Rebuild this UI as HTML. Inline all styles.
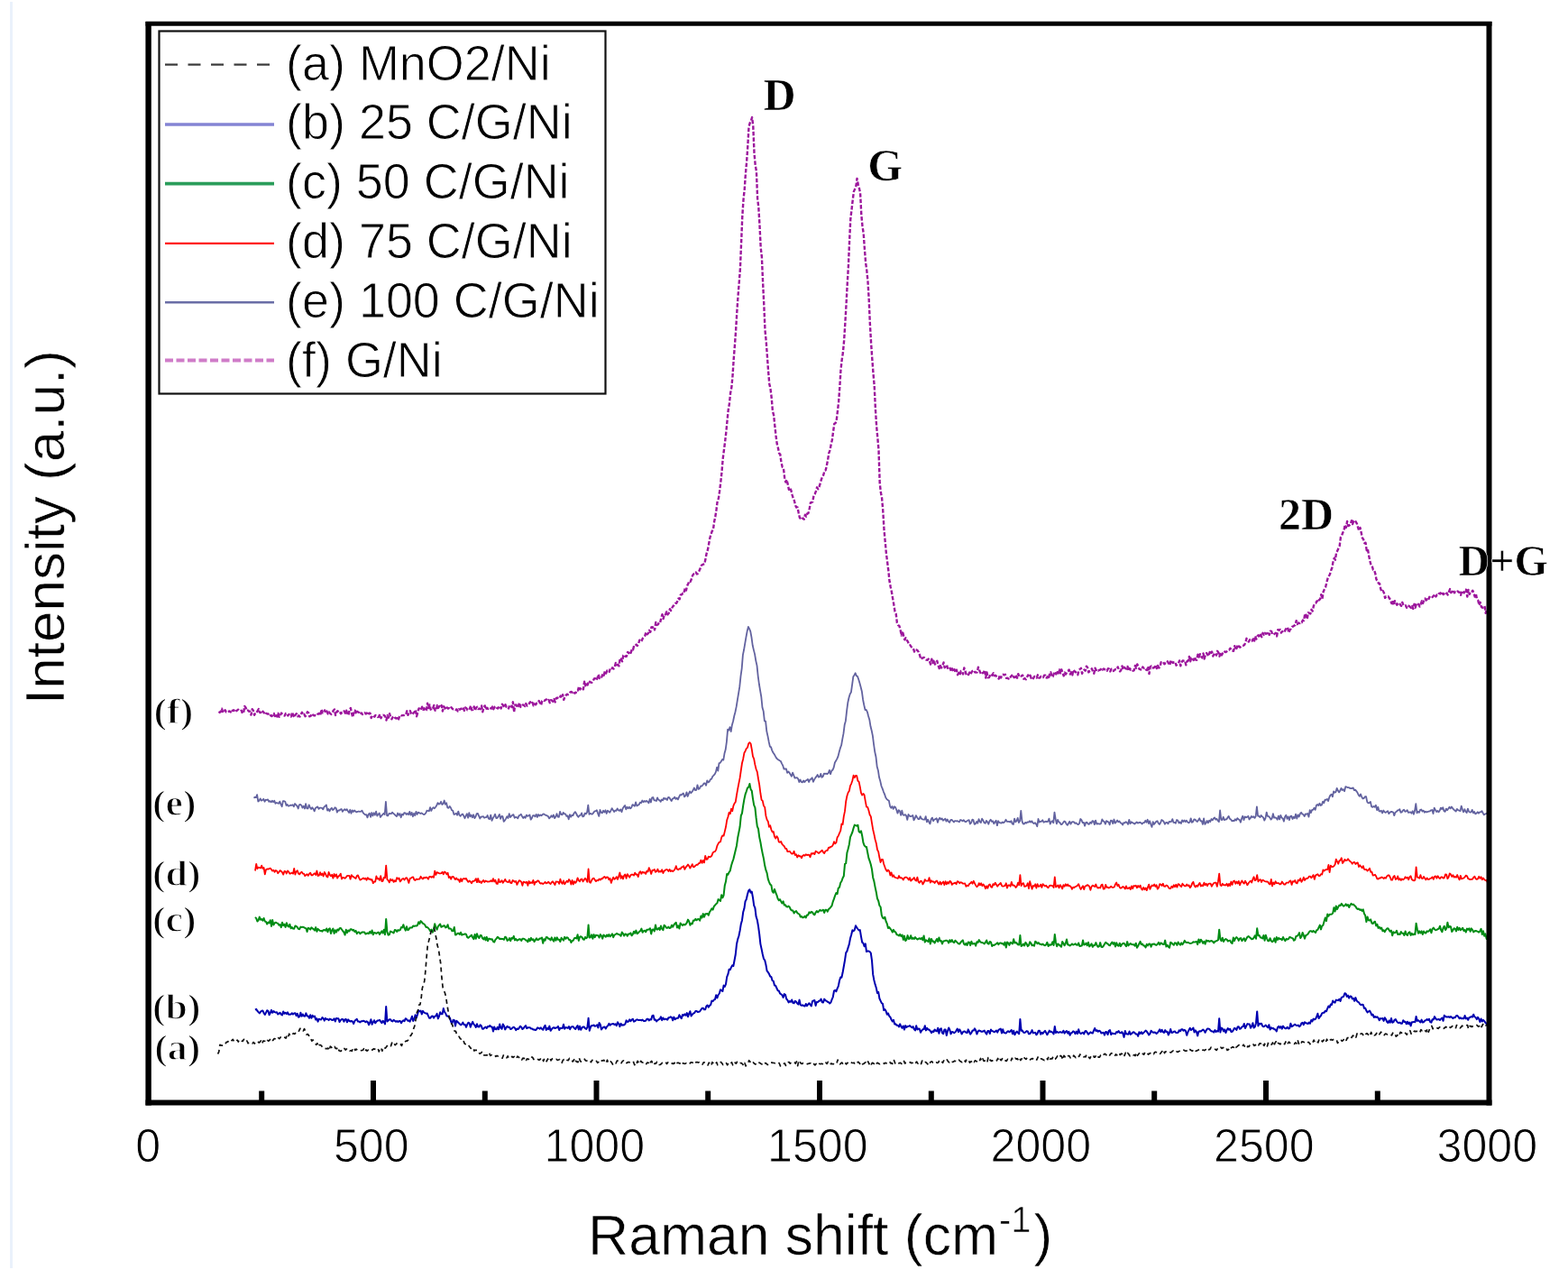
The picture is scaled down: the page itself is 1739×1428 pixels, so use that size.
<!DOCTYPE html>
<html><head><meta charset="utf-8"><title>Raman spectra</title>
<style>
html,body{margin:0;padding:0;background:#fff;}
body{width:1739px;height:1428px;overflow:hidden;}
svg{display:block;}
.sans{font-family:"Liberation Sans",Arial,sans-serif;}
.thin text, text.thin{stroke:#fff;stroke-width:0.9px;stroke-linejoin:round;}
.thin2 text, text.thin2{stroke:#fff;stroke-width:0.6px;stroke-linejoin:round;}
.thin3 text{stroke:#fff;stroke-width:1.3px;stroke-linejoin:round;}
.serifb{font-family:"Liberation Serif","Times New Roman",serif;font-weight:bold;}
</style></head>
<body>
<svg width="1739" height="1428" viewBox="0 0 1739 1428">
<rect x="0" y="0" width="1739" height="1428" fill="#fff"/>
<rect x="11" y="2" width="3" height="1404" fill="#eaf1fb"/>
<!-- curves -->
<g id="curves">
<path d="M242.5 789.0 L243.7 789.9 L244.9 789.0 L246.1 785.7 L247.3 790.1 L248.5 789.2 L249.7 787.2 L250.9 789.5 L252.1 789.0 L253.3 788.9 L254.5 788.4 L255.7 789.4 L256.9 786.8 L258.1 788.0 L259.3 787.3 L260.5 789.5 L261.7 788.4 L262.9 787.7 L264.1 786.7 L265.3 787.8 L266.5 788.3 L267.7 787.7 L268.9 790.9 L270.1 790.3 L271.3 782.9 L272.5 784.5 L273.7 788.0 L274.9 787.5 L276.1 788.7 L277.3 788.8 L278.5 792.6 L279.7 786.2 L280.9 787.8 L282.1 792.8 L283.3 790.1 L284.5 790.3 L285.7 788.2 L286.9 786.1 L288.1 790.0 L289.3 790.1 L290.5 787.6 L291.7 789.0 L292.9 790.4 L294.1 788.9 L295.3 790.9 L296.5 791.5 L297.7 791.6 L298.9 790.8 L300.1 793.2 L301.3 794.0 L302.5 793.0 L303.7 790.9 L304.9 794.1 L306.1 791.8 L307.3 794.6 L308.5 790.8 L309.7 794.8 L310.9 793.0 L312.1 790.5 L313.3 792.4 L314.5 793.1 L315.7 793.5 L316.9 791.0 L318.1 790.8 L319.3 793.4 L320.5 792.0 L321.7 793.4 L322.9 794.5 L324.1 789.6 L325.3 793.4 L326.5 795.3 L327.7 792.3 L328.9 791.2 L330.1 794.3 L331.3 793.3 L332.5 794.6 L333.7 792.1 L334.9 789.8 L336.1 792.5 L337.3 791.8 L338.5 794.2 L339.7 793.0 L340.9 789.3 L342.1 790.2 L343.3 794.3 L344.5 793.9 L345.7 791.2 L346.9 792.4 L348.1 793.2 L349.3 793.1 L350.5 793.7 L351.7 792.3 L352.9 791.4 L354.1 790.9 L355.3 793.3 L356.5 786.4 L357.7 790.4 L358.9 790.5 L360.1 787.4 L361.3 790.7 L362.5 788.6 L363.7 791.5 L364.9 789.4 L366.1 790.9 L367.3 791.9 L368.5 790.3 L369.7 787.8 L370.9 786.5 L372.1 793.0 L373.3 789.3 L374.5 788.2 L375.7 789.9 L376.9 789.2 L378.1 791.3 L379.3 789.7 L380.5 789.7 L381.7 788.3 L382.9 790.7 L384.1 787.7 L385.3 791.1 L386.5 792.9 L387.7 786.8 L388.9 785.0 L390.1 791.2 L391.3 795.1 L392.5 788.1 L393.7 787.7 L394.9 791.5 L396.1 788.8 L397.3 789.6 L398.5 790.1 L399.7 792.1 L400.9 790.4 L402.1 792.0 L403.3 791.3 L404.5 790.2 L405.7 791.5 L406.9 790.5 L408.1 792.6 L409.3 790.6 L410.5 790.8 L411.7 796.1 L412.9 793.3 L414.1 793.4 L415.3 794.7 L416.5 793.0 L417.7 793.5 L418.9 795.0 L420.1 794.8 L421.3 792.1 L422.5 796.2 L423.7 793.5 L424.9 792.8 L426.1 793.2 L427.3 794.3 L428.5 798.5 L429.7 793.0 L430.9 795.7 L432.1 791.2 L433.3 795.5 L434.5 797.3 L435.7 795.0 L436.9 794.1 L438.1 795.7 L439.3 796.5 L440.5 796.2 L441.7 798.6 L442.9 794.7 L444.1 792.8 L445.3 793.4 L446.5 793.1 L447.7 793.1 L448.9 792.4 L450.1 792.4 L451.3 788.3 L452.5 792.9 L453.7 789.7 L454.9 788.1 L456.1 791.3 L457.3 792.3 L458.5 790.4 L459.7 789.4 L460.9 786.9 L462.1 794.2 L463.3 789.9 L464.5 785.5 L465.7 785.9 L466.9 787.3 L468.1 783.7 L469.3 786.8 L470.5 785.2 L471.7 788.2 L472.9 787.4 L474.1 779.7 L475.3 785.0 L476.5 781.4 L477.7 786.7 L478.9 784.6 L480.1 785.2 L481.3 781.9 L482.5 787.7 L483.7 788.0 L484.9 781.9 L486.1 784.9 L487.3 782.9 L488.5 784.4 L489.7 782.1 L490.9 788.6 L492.1 783.1 L493.3 784.7 L494.5 786.5 L495.7 784.4 L496.9 785.5 L498.1 785.1 L499.3 786.1 L500.5 784.2 L501.7 785.8 L502.9 786.4 L504.1 786.3 L505.3 787.1 L506.5 786.4 L507.7 788.5 L508.9 786.3 L510.1 786.7 L511.3 785.6 L512.5 785.8 L513.7 784.3 L514.9 787.8 L516.1 784.4 L517.3 785.2 L518.5 787.3 L519.7 787.3 L520.9 785.7 L522.1 782.4 L523.3 787.2 L524.5 786.8 L525.7 783.4 L526.9 787.7 L528.1 784.6 L529.3 783.7 L530.5 786.1 L531.7 785.5 L532.9 786.2 L534.1 782.5 L535.3 789.3 L536.5 784.4 L537.7 782.4 L538.9 786.7 L540.1 784.7 L541.3 785.9 L542.5 784.5 L543.7 785.0 L544.9 785.6 L546.1 783.5 L547.3 786.3 L548.5 783.9 L549.7 783.0 L550.9 784.8 L552.1 785.5 L553.3 784.0 L554.5 782.7 L555.7 785.5 L556.9 780.7 L558.1 782.1 L559.3 784.1 L560.5 781.2 L561.7 783.9 L562.9 783.6 L564.1 785.4 L565.3 781.7 L566.5 782.2 L567.7 784.0 L568.9 778.3 L570.1 789.4 L571.3 781.7 L572.5 781.5 L573.7 784.6 L574.9 782.7 L576.1 779.1 L577.3 783.8 L578.5 784.1 L579.7 781.4 L580.9 781.6 L582.1 783.0 L583.3 780.0 L584.5 782.6 L585.7 781.9 L586.9 780.0 L588.1 778.3 L589.3 780.4 L590.5 778.9 L591.7 782.3 L592.9 780.3 L594.1 781.2 L595.3 779.6 L596.5 779.5 L597.7 777.1 L598.9 779.6 L600.1 781.6 L601.3 777.1 L602.5 776.3 L603.7 776.9 L604.9 776.1 L606.1 775.4 L607.3 776.9 L608.5 775.9 L609.7 779.2 L610.9 776.2 L612.1 776.7 L613.3 777.8 L614.5 775.1 L615.7 778.4 L616.9 774.1 L618.1 773.5 L619.3 774.1 L620.5 774.4 L621.7 771.5 L622.9 773.9 L624.1 770.2 L625.3 775.9 L626.5 772.4 L627.7 770.8 L628.9 769.6 L630.1 770.1 L631.3 769.7 L632.5 767.4 L633.7 767.0 L634.9 767.7 L636.1 766.4 L637.3 768.6 L638.5 768.2 L639.7 765.3 L640.9 765.5 L642.1 761.1 L643.3 764.4 L644.5 762.4 L645.7 762.7 L646.9 764.3 L648.1 755.8 L649.3 760.2 L650.5 756.8 L651.7 759.5 L652.9 755.0 L654.1 755.9 L655.3 756.6 L656.5 756.7 L657.7 754.9 L658.9 752.5 L660.1 752.2 L661.3 754.3 L662.5 751.8 L663.7 747.7 L664.9 752.0 L666.1 750.3 L667.3 750.5 L668.5 747.2 L669.7 748.7 L670.9 744.1 L672.1 746.6 L673.3 743.6 L674.5 745.1 L675.7 744.9 L676.9 740.5 L678.1 741.0 L679.3 740.2 L680.5 741.6 L681.7 739.7 L682.9 734.9 L684.1 737.3 L685.3 736.8 L686.5 738.4 L687.7 729.7 L688.9 730.8 L690.1 733.3 L691.3 726.7 L692.5 725.8 L693.7 727.9 L694.9 727.7 L696.1 723.0 L697.3 724.2 L698.5 722.1 L699.7 723.7 L700.9 719.5 L702.1 720.3 L703.3 715.3 L704.5 715.6 L705.7 714.6 L706.9 715.9 L708.1 713.6 L709.3 709.7 L710.5 711.4 L711.7 710.4 L712.9 707.5 L714.1 706.0 L715.3 704.9 L716.5 700.7 L717.7 703.3 L718.9 702.2 L720.1 698.8 L721.3 700.8 L722.5 695.3 L723.7 695.7 L724.9 694.6 L726.1 698.3 L727.3 689.9 L728.5 693.0 L729.7 692.5 L730.9 690.2 L732.1 690.6 L733.3 685.0 L734.5 681.2 L735.7 686.0 L736.9 680.8 L738.1 681.3 L739.3 678.3 L740.5 681.4 L741.7 679.7 L742.9 675.2 L744.1 677.0 L745.3 674.0 L746.5 672.0 L747.7 670.9 L748.9 668.9 L750.1 668.9 L751.3 666.6 L752.5 663.5 L753.7 664.4 L754.9 659.4 L756.1 659.3 L757.3 657.7 L758.5 657.9 L759.7 652.0 L760.9 654.6 L762.1 649.6 L763.3 647.0 L764.5 644.2 L765.7 644.9 L766.9 642.0 L768.1 638.0 L769.3 636.4 L770.5 636.0 L771.7 634.4 L772.9 636.5 L774.1 635.7 L775.3 633.2 L776.5 630.6 L777.7 627.2 L778.9 626.2 L780.1 625.7 L781.3 625.4 L782.5 619.6 L783.7 613.3 L784.9 609.6 L786.1 603.3 L787.3 596.5 L788.5 592.5 L789.7 588.9 L790.9 587.7 L792.1 578.6 L793.3 573.0 L794.5 565.0 L795.7 555.4 L796.9 552.6 L798.1 544.4 L799.3 534.6 L800.5 523.2 L801.7 508.7 L802.9 499.2 L804.1 489.9 L805.3 479.3 L806.5 466.8 L807.7 454.6 L808.9 447.6 L810.1 435.7 L811.3 429.8 L812.5 417.0 L813.7 398.4 L814.9 383.0 L816.1 366.6 L817.3 346.2 L818.5 328.4 L819.7 313.5 L820.9 298.0 L822.1 269.1 L823.3 239.7 L824.5 221.5 L825.7 210.1 L826.9 192.7 L828.1 179.3 L829.3 162.0 L830.5 140.5 L831.7 136.3 L832.9 133.9 L834.1 130.1 L835.3 140.1 L836.5 169.6 L837.7 183.1 L838.9 189.8 L840.1 220.1 L841.3 229.9 L842.5 249.8 L843.7 274.6 L844.9 285.0 L846.1 313.3 L847.3 338.1 L848.5 366.3 L849.7 378.2 L850.9 394.8 L852.1 411.7 L853.3 425.7 L854.5 431.1 L855.7 440.9 L856.9 455.7 L858.1 460.2 L859.3 471.8 L860.5 482.9 L861.7 491.9 L862.9 496.5 L864.1 502.6 L865.3 503.7 L866.5 513.0 L867.7 517.8 L868.9 518.5 L870.1 529.2 L871.3 534.5 L872.5 531.8 L873.7 536.7 L874.9 542.8 L876.1 540.7 L877.3 543.4 L878.5 548.2 L879.7 552.5 L880.9 555.1 L882.1 560.3 L883.3 562.6 L884.5 562.4 L885.7 568.6 L886.9 574.0 L888.1 575.0 L889.3 576.2 L890.5 574.5 L891.7 575.8 L892.9 570.7 L894.1 572.7 L895.3 569.4 L896.5 569.0 L897.7 564.0 L898.9 557.4 L900.1 557.0 L901.3 556.5 L902.5 549.2 L903.7 547.7 L904.9 544.6 L906.1 540.3 L907.3 542.2 L908.5 539.8 L909.7 535.8 L910.9 531.7 L912.1 528.4 L913.3 526.5 L914.5 521.7 L915.7 521.3 L916.9 516.0 L918.1 509.9 L919.3 502.4 L920.5 499.2 L921.7 492.6 L922.9 487.8 L924.1 478.4 L925.3 469.8 L926.5 469.2 L927.7 466.1 L928.9 456.2 L930.1 445.7 L931.3 429.3 L932.5 409.6 L933.7 398.8 L934.9 391.0 L936.1 377.9 L937.3 359.0 L938.5 338.2 L939.7 315.2 L940.9 295.2 L942.1 267.2 L943.3 242.7 L944.5 232.6 L945.7 222.0 L946.9 212.4 L948.1 209.6 L949.3 206.8 L950.5 197.9 L951.7 204.3 L952.9 208.6 L954.1 214.1 L955.3 238.2 L956.5 250.9 L957.7 258.7 L958.9 276.1 L960.1 291.3 L961.3 299.8 L962.5 312.3 L963.7 332.3 L964.9 359.6 L966.1 380.3 L967.3 397.9 L968.5 414.0 L969.7 427.8 L970.9 453.2 L972.1 472.3 L973.3 485.4 L974.5 498.8 L975.7 535.5 L976.9 546.1 L978.1 552.3 L979.3 566.8 L980.5 587.3 L981.7 600.4 L982.9 613.6 L984.1 623.0 L985.3 632.4 L986.5 644.3 L987.7 650.7 L988.9 656.3 L990.1 663.4 L991.3 670.1 L992.5 677.9 L993.7 680.5 L994.9 690.6 L996.1 693.2 L997.3 693.8 L998.5 697.7 L999.7 704.6 L1000.9 699.8 L1002.1 704.7 L1003.3 709.3 L1004.5 707.2 L1005.7 709.7 L1006.9 711.4 L1008.1 714.8 L1009.3 715.1 L1010.5 716.9 L1011.7 718.6 L1012.9 718.9 L1014.1 722.5 L1015.3 720.3 L1016.5 720.5 L1017.7 721.3 L1018.9 723.1 L1020.1 726.5 L1021.3 730.8 L1022.5 729.9 L1023.7 729.2 L1024.9 729.0 L1026.1 730.7 L1027.3 731.6 L1028.5 731.8 L1029.7 730.6 L1030.9 733.0 L1032.1 736.5 L1033.3 730.6 L1034.5 734.9 L1035.7 731.5 L1036.9 736.5 L1038.1 735.0 L1039.3 732.7 L1040.5 737.4 L1041.7 741.1 L1042.9 738.0 L1044.1 740.5 L1045.3 738.3 L1046.5 734.5 L1047.7 740.2 L1048.9 738.8 L1050.1 737.2 L1051.3 742.2 L1052.5 741.8 L1053.7 740.8 L1054.9 744.2 L1056.1 741.3 L1057.3 744.9 L1058.5 742.2 L1059.7 745.6 L1060.9 742.7 L1062.1 748.2 L1063.3 745.9 L1064.5 748.3 L1065.7 744.0 L1066.9 744.8 L1068.1 747.5 L1069.3 740.4 L1070.5 743.8 L1071.7 748.1 L1072.9 747.0 L1074.1 748.1 L1075.3 745.6 L1076.5 747.4 L1077.7 744.9 L1078.9 743.7 L1080.1 743.1 L1081.3 745.4 L1082.5 745.5 L1083.7 745.4 L1084.9 739.7 L1086.1 742.9 L1087.3 745.9 L1088.5 747.7 L1089.7 746.1 L1090.9 745.6 L1092.1 742.9 L1093.3 751.6 L1094.5 745.5 L1095.7 751.2 L1096.9 751.1 L1098.1 748.7 L1099.3 747.1 L1100.5 748.7 L1101.7 746.2 L1102.9 749.2 L1104.1 748.8 L1105.3 750.0 L1106.5 751.0 L1107.7 752.6 L1108.9 748.5 L1110.1 751.5 L1111.3 747.9 L1112.5 747.8 L1113.7 748.4 L1114.9 747.8 L1116.1 751.8 L1117.3 751.7 L1118.5 752.5 L1119.7 750.0 L1120.9 750.6 L1122.1 749.0 L1123.3 747.9 L1124.5 751.2 L1125.7 750.9 L1126.9 748.2 L1128.1 751.7 L1129.3 747.1 L1130.5 750.3 L1131.7 749.4 L1132.9 749.7 L1134.1 748.6 L1135.3 752.7 L1136.5 752.0 L1137.7 753.3 L1138.9 751.2 L1140.1 748.4 L1141.3 750.3 L1142.5 748.7 L1143.7 752.0 L1144.9 753.5 L1146.1 751.8 L1147.3 749.9 L1148.5 750.4 L1149.7 751.6 L1150.9 748.3 L1152.1 751.5 L1153.3 751.5 L1154.5 749.9 L1155.7 750.0 L1156.9 751.0 L1158.1 748.8 L1159.3 748.6 L1160.5 751.5 L1161.7 750.2 L1162.9 752.8 L1164.1 747.2 L1165.3 745.3 L1166.5 750.4 L1167.7 750.2 L1168.9 746.5 L1170.1 744.8 L1171.3 747.4 L1172.5 743.8 L1173.7 746.4 L1174.9 742.5 L1176.1 746.3 L1177.3 742.3 L1178.5 745.9 L1179.7 749.3 L1180.9 745.6 L1182.1 747.5 L1183.3 744.5 L1184.5 743.9 L1185.7 742.6 L1186.9 747.5 L1188.1 745.2 L1189.3 748.4 L1190.5 742.7 L1191.7 744.4 L1192.9 744.9 L1194.1 747.5 L1195.3 748.2 L1196.5 743.1 L1197.7 742.0 L1198.9 740.7 L1200.1 746.8 L1201.3 743.8 L1202.5 742.6 L1203.7 743.7 L1204.9 738.6 L1206.1 740.1 L1207.3 745.4 L1208.5 744.2 L1209.7 743.7 L1210.9 741.3 L1212.1 744.4 L1213.3 746.7 L1214.5 740.6 L1215.7 743.0 L1216.9 742.1 L1218.1 743.6 L1219.3 742.8 L1220.5 742.5 L1221.7 740.9 L1222.9 742.6 L1224.1 741.4 L1225.3 742.3 L1226.5 742.4 L1227.7 743.8 L1228.9 741.2 L1230.1 741.7 L1231.3 744.4 L1232.5 741.8 L1233.7 741.7 L1234.9 743.9 L1236.1 742.6 L1237.3 742.2 L1238.5 742.4 L1239.7 739.4 L1240.9 742.8 L1242.1 744.4 L1243.3 742.9 L1244.5 738.5 L1245.7 742.1 L1246.9 739.7 L1248.1 741.0 L1249.3 741.6 L1250.5 738.9 L1251.7 743.9 L1252.9 741.0 L1254.1 742.7 L1255.3 742.3 L1256.5 743.7 L1257.7 743.3 L1258.9 737.9 L1260.1 740.8 L1261.3 736.4 L1262.5 739.7 L1263.7 741.9 L1264.9 742.2 L1266.1 742.9 L1267.3 739.5 L1268.5 740.8 L1269.7 740.2 L1270.9 742.4 L1272.1 743.0 L1273.3 738.9 L1274.5 747.1 L1275.7 739.4 L1276.9 738.5 L1278.1 740.3 L1279.3 740.5 L1280.5 739.8 L1281.7 737.1 L1282.9 741.1 L1284.1 737.9 L1285.3 740.5 L1286.5 739.8 L1287.7 734.1 L1288.9 734.4 L1290.1 734.0 L1291.3 736.2 L1292.5 735.5 L1293.7 735.7 L1294.9 733.3 L1296.1 735.7 L1297.3 737.5 L1298.5 731.9 L1299.7 734.1 L1300.9 734.9 L1302.1 734.1 L1303.3 733.8 L1304.5 737.7 L1305.7 736.7 L1306.9 735.7 L1308.1 732.4 L1309.3 738.3 L1310.5 734.4 L1311.7 732.4 L1312.9 732.7 L1314.1 732.3 L1315.3 737.3 L1316.5 733.2 L1317.7 732.6 L1318.9 727.9 L1320.1 733.3 L1321.3 729.4 L1322.5 728.9 L1323.7 732.0 L1324.9 728.6 L1326.1 731.6 L1327.3 731.8 L1328.5 725.6 L1329.7 728.5 L1330.9 725.2 L1332.1 727.8 L1333.3 729.4 L1334.5 724.5 L1335.7 730.5 L1336.9 726.0 L1338.1 724.0 L1339.3 725.8 L1340.5 727.4 L1341.7 722.9 L1342.9 725.4 L1344.1 722.5 L1345.3 727.5 L1346.5 725.2 L1347.7 723.9 L1348.9 726.6 L1350.1 721.8 L1351.3 723.4 L1352.5 727.7 L1353.7 723.6 L1354.9 726.4 L1356.1 723.9 L1357.3 721.9 L1358.5 722.6 L1359.7 723.0 L1360.9 721.8 L1362.1 720.7 L1363.3 720.5 L1364.5 718.7 L1365.7 721.5 L1366.9 721.6 L1368.1 721.8 L1369.3 716.1 L1370.5 720.6 L1371.7 718.3 L1372.9 714.7 L1374.1 717.0 L1375.3 717.7 L1376.5 716.4 L1377.7 716.0 L1378.9 715.8 L1380.1 715.0 L1381.3 712.5 L1382.5 707.8 L1383.7 709.8 L1384.9 711.5 L1386.1 709.2 L1387.3 710.9 L1388.5 710.6 L1389.7 708.5 L1390.9 711.6 L1392.1 705.3 L1393.3 708.6 L1394.5 705.3 L1395.7 704.2 L1396.9 706.5 L1398.1 703.7 L1399.3 706.2 L1400.5 701.8 L1401.7 703.9 L1402.9 701.8 L1404.1 702.8 L1405.3 702.2 L1406.5 700.4 L1407.7 703.8 L1408.9 699.7 L1410.1 700.0 L1411.3 703.5 L1412.5 703.5 L1413.7 702.6 L1414.9 701.7 L1416.1 705.4 L1417.3 698.1 L1418.5 698.8 L1419.7 698.0 L1420.9 701.5 L1422.1 700.0 L1423.3 701.3 L1424.5 700.6 L1425.7 697.9 L1426.9 696.3 L1428.1 695.5 L1429.3 701.4 L1430.5 698.5 L1431.7 697.2 L1432.9 694.8 L1434.1 694.5 L1435.3 693.6 L1436.5 692.9 L1437.7 688.1 L1438.9 692.0 L1440.1 690.5 L1441.3 691.0 L1442.5 689.9 L1443.7 690.2 L1444.9 687.5 L1446.1 688.0 L1447.3 680.2 L1448.5 681.9 L1449.7 686.4 L1450.9 679.2 L1452.1 679.8 L1453.3 680.4 L1454.5 675.8 L1455.7 677.6 L1456.9 671.8 L1458.1 669.3 L1459.3 668.8 L1460.5 666.4 L1461.7 667.8 L1462.9 665.1 L1464.1 664.2 L1465.3 659.1 L1466.5 663.8 L1467.7 655.9 L1468.9 653.2 L1470.1 651.0 L1471.3 646.0 L1472.5 641.4 L1473.7 639.0 L1474.9 636.8 L1476.1 632.6 L1477.3 629.5 L1478.5 622.9 L1479.7 618.8 L1480.9 620.7 L1482.1 612.7 L1483.3 610.6 L1484.5 607.6 L1485.7 605.2 L1486.9 595.7 L1488.1 593.7 L1489.3 590.5 L1490.5 588.0 L1491.7 581.8 L1492.9 585.0 L1494.1 578.0 L1495.3 583.1 L1496.5 582.4 L1497.7 581.6 L1498.9 577.2 L1500.1 581.1 L1501.3 577.3 L1502.5 576.9 L1503.7 578.5 L1504.9 580.6 L1506.1 584.8 L1507.3 588.5 L1508.5 585.1 L1509.7 590.6 L1510.9 596.3 L1512.1 598.0 L1513.3 602.1 L1514.5 601.7 L1515.7 610.2 L1516.9 608.7 L1518.1 615.7 L1519.3 621.7 L1520.5 626.5 L1521.7 627.4 L1522.9 631.8 L1524.1 632.3 L1525.3 635.9 L1526.5 642.6 L1527.7 643.7 L1528.9 646.7 L1530.1 647.2 L1531.3 653.0 L1532.5 656.1 L1533.7 655.0 L1534.9 657.2 L1536.1 662.9 L1537.3 661.5 L1538.5 661.8 L1539.7 661.3 L1540.9 663.3 L1542.1 665.0 L1543.3 669.0 L1544.5 665.6 L1545.7 671.0 L1546.9 666.1 L1548.1 667.8 L1549.3 670.7 L1550.5 669.1 L1551.7 668.4 L1552.9 670.2 L1554.1 671.8 L1555.3 667.8 L1556.5 671.1 L1557.7 671.7 L1558.9 671.3 L1560.1 673.8 L1561.3 671.3 L1562.5 671.8 L1563.7 672.7 L1564.9 674.0 L1566.1 671.9 L1567.3 675.0 L1568.5 669.8 L1569.7 673.7 L1570.9 668.8 L1572.1 669.6 L1573.3 669.9 L1574.5 672.6 L1575.7 669.6 L1576.9 666.3 L1578.1 669.0 L1579.3 665.3 L1580.5 663.6 L1581.7 665.5 L1582.9 664.3 L1584.1 665.4 L1585.3 661.8 L1586.5 663.1 L1587.7 663.0 L1588.9 661.7 L1590.1 660.5 L1591.3 658.7 L1592.5 661.4 L1593.7 659.5 L1594.9 659.9 L1596.1 657.9 L1597.3 658.4 L1598.5 656.0 L1599.7 658.0 L1600.9 659.1 L1602.1 657.6 L1603.3 658.9 L1604.5 657.6 L1605.7 659.5 L1606.9 656.2 L1608.1 653.1 L1609.3 657.1 L1610.5 655.8 L1611.7 654.1 L1612.9 657.3 L1614.1 656.5 L1615.3 656.9 L1616.5 655.4 L1617.7 656.5 L1618.9 656.7 L1620.1 659.8 L1621.3 655.0 L1622.5 656.5 L1623.7 657.4 L1624.9 653.4 L1626.1 653.8 L1627.3 661.6 L1628.5 654.0 L1629.7 658.9 L1630.9 656.4 L1632.1 656.8 L1633.3 654.7 L1634.5 657.3 L1635.7 661.6 L1636.9 658.7 L1638.1 664.4 L1639.3 665.7 L1640.5 671.0 L1641.7 667.8 L1642.9 672.8 L1644.1 673.7 L1645.3 673.0 L1646.5 671.9 L1647.7 679.9 L1648.9 675.8" fill="none" stroke="#9c169c" stroke-width="2.4" stroke-dasharray="4.5 2" stroke-linejoin="round"/>
<path d="M281.5 884.7 L282.7 883.8 L283.9 884.2 L285.1 881.1 L286.3 888.5 L287.5 887.7 L288.7 885.4 L289.9 887.6 L291.1 887.0 L292.3 885.8 L293.5 888.7 L294.7 886.7 L295.9 887.0 L297.1 886.4 L298.3 888.8 L299.5 888.1 L300.7 889.4 L301.9 887.7 L303.1 889.2 L304.3 887.7 L305.5 890.9 L306.7 890.0 L307.9 890.4 L309.1 890.8 L310.3 888.6 L311.5 891.8 L312.7 894.2 L313.9 888.1 L315.1 888.2 L316.3 888.8 L317.5 893.0 L318.7 891.9 L319.9 893.7 L321.1 893.3 L322.3 892.6 L323.5 892.9 L324.7 892.3 L325.9 894.3 L327.1 891.0 L328.3 892.4 L329.5 893.7 L330.7 896.5 L331.9 892.3 L333.1 891.9 L334.3 892.9 L335.5 895.6 L336.7 893.7 L337.9 896.5 L339.1 891.2 L340.3 896.4 L341.5 896.4 L342.7 892.3 L343.9 895.1 L345.1 897.1 L346.3 895.3 L347.5 896.9 L348.7 899.4 L349.9 895.9 L351.1 895.1 L352.3 894.4 L353.5 896.9 L354.7 895.6 L355.9 895.7 L357.1 895.9 L358.3 897.3 L359.5 894.5 L360.7 893.8 L361.9 892.4 L363.1 898.7 L364.3 896.9 L365.5 899.4 L366.7 897.0 L367.9 895.8 L369.1 898.0 L370.3 897.2 L371.5 895.3 L372.7 896.0 L373.9 900.7 L375.1 898.4 L376.3 898.6 L377.5 897.5 L378.7 897.0 L379.9 899.8 L381.1 898.2 L382.3 897.2 L383.5 898.4 L384.7 897.2 L385.9 899.2 L387.1 901.0 L388.3 897.8 L389.5 901.8 L390.7 898.4 L391.9 900.0 L393.1 898.5 L394.3 899.7 L395.5 900.4 L396.7 899.8 L397.9 899.5 L399.1 899.8 L400.3 899.7 L401.5 898.6 L402.7 901.1 L403.9 902.4 L405.1 903.4 L406.3 903.1 L407.5 906.4 L408.7 902.9 L409.9 901.7 L411.1 905.8 L412.3 901.0 L413.5 904.5 L414.7 901.3 L415.9 903.6 L417.1 899.7 L418.3 904.6 L419.5 902.8 L420.7 901.5 L421.9 906.0 L423.1 904.4 L424.3 903.2 L425.5 901.8 L426.7 903.0 L427.9 888.8 L429.1 904.3 L430.3 904.4 L431.5 901.9 L432.7 902.1 L433.9 902.1 L435.1 900.7 L436.3 902.0 L437.5 902.8 L438.7 904.1 L439.9 905.2 L441.1 901.5 L442.3 903.8 L443.5 902.1 L444.7 906.3 L445.9 902.7 L447.1 903.6 L448.3 901.1 L449.5 901.3 L450.7 903.0 L451.9 901.9 L453.1 903.2 L454.3 899.9 L455.5 903.6 L456.7 900.9 L457.9 905.3 L459.1 901.8 L460.3 904.1 L461.5 899.8 L462.7 902.9 L463.9 900.6 L465.1 901.2 L466.3 902.0 L467.5 901.4 L468.7 902.3 L469.9 903.0 L471.1 902.8 L472.3 901.3 L473.5 898.7 L474.7 899.0 L475.9 899.3 L477.1 895.1 L478.3 899.0 L479.5 896.3 L480.7 895.2 L481.9 896.2 L483.1 894.7 L484.3 893.0 L485.5 890.1 L486.7 891.6 L487.9 891.2 L489.1 888.8 L490.3 892.0 L491.5 891.3 L492.7 887.5 L493.9 891.8 L495.1 890.3 L496.3 895.4 L497.5 895.9 L498.7 893.9 L499.9 895.5 L501.1 898.3 L502.3 898.9 L503.5 903.0 L504.7 902.6 L505.9 901.6 L507.1 903.7 L508.3 899.6 L509.5 903.7 L510.7 904.8 L511.9 903.2 L513.1 902.4 L514.3 904.7 L515.5 907.2 L516.7 904.4 L517.9 902.2 L519.1 906.7 L520.3 901.2 L521.5 905.3 L522.7 903.6 L523.9 906.3 L525.1 903.3 L526.3 907.1 L527.5 905.5 L528.7 902.1 L529.9 901.8 L531.1 904.7 L532.3 907.5 L533.5 905.6 L534.7 905.5 L535.9 905.1 L537.1 906.8 L538.3 906.2 L539.5 906.1 L540.7 904.0 L541.9 907.7 L543.1 908.1 L544.3 903.6 L545.5 909.8 L546.7 907.1 L547.9 905.1 L549.1 902.7 L550.3 907.1 L551.5 906.9 L552.7 905.0 L553.9 902.9 L555.1 907.9 L556.3 905.0 L557.5 905.2 L558.7 910.8 L559.9 909.6 L561.1 907.6 L562.3 905.2 L563.5 907.1 L564.7 902.1 L565.9 906.1 L567.1 904.7 L568.3 903.7 L569.5 903.2 L570.7 906.8 L571.9 906.0 L573.1 906.1 L574.3 907.3 L575.5 904.4 L576.7 903.7 L577.9 902.8 L579.1 905.2 L580.3 907.0 L581.5 905.4 L582.7 906.8 L583.9 903.6 L585.1 904.8 L586.3 904.3 L587.5 903.4 L588.7 908.7 L589.9 906.9 L591.1 904.1 L592.3 904.1 L593.5 905.3 L594.7 902.9 L595.9 906.0 L597.1 903.0 L598.3 904.6 L599.5 903.4 L600.7 904.3 L601.9 902.8 L603.1 902.4 L604.3 903.4 L605.5 903.8 L606.7 904.4 L607.9 905.0 L609.1 907.4 L610.3 906.2 L611.5 904.3 L612.7 905.9 L613.9 903.5 L615.1 907.1 L616.3 905.5 L617.5 902.2 L618.7 905.7 L619.9 905.8 L621.1 899.8 L622.3 903.0 L623.5 903.4 L624.7 900.9 L625.9 902.3 L627.1 902.4 L628.3 904.8 L629.5 904.4 L630.7 908.3 L631.9 903.1 L633.1 905.7 L634.3 903.8 L635.5 904.0 L636.7 901.5 L637.9 900.1 L639.1 902.0 L640.3 904.5 L641.5 905.8 L642.7 904.1 L643.9 903.8 L645.1 901.4 L646.3 905.4 L647.5 904.9 L648.7 901.6 L649.9 902.4 L651.1 900.6 L652.3 892.7 L653.5 902.8 L654.7 901.8 L655.9 902.6 L657.1 902.5 L658.3 900.9 L659.5 899.4 L660.7 899.2 L661.9 898.3 L663.1 901.9 L664.3 904.8 L665.5 898.0 L666.7 900.9 L667.9 901.3 L669.1 898.7 L670.3 900.6 L671.5 898.3 L672.7 902.0 L673.9 898.8 L675.1 899.8 L676.3 900.7 L677.5 898.6 L678.7 896.1 L679.9 898.1 L681.1 900.1 L682.3 898.5 L683.5 898.8 L684.7 896.4 L685.9 898.2 L687.1 898.9 L688.3 897.4 L689.5 900.2 L690.7 896.2 L691.9 894.4 L693.1 893.0 L694.3 897.3 L695.5 894.8 L696.7 896.2 L697.9 894.8 L699.1 896.4 L700.3 895.3 L701.5 892.1 L702.7 892.8 L703.9 893.7 L705.1 889.4 L706.3 893.5 L707.5 892.8 L708.7 892.0 L709.9 889.7 L711.1 890.2 L712.3 887.5 L713.5 889.3 L714.7 888.0 L715.9 888.9 L717.1 887.8 L718.3 888.9 L719.5 890.3 L720.7 885.9 L721.9 889.5 L723.1 884.4 L724.3 884.0 L725.5 887.3 L726.7 887.4 L727.9 888.0 L729.1 884.3 L730.3 886.9 L731.5 887.1 L732.7 888.9 L733.9 886.4 L735.1 887.4 L736.3 884.7 L737.5 885.9 L738.7 885.3 L739.9 887.0 L741.1 884.0 L742.3 884.1 L743.5 886.3 L744.7 888.1 L745.9 885.5 L747.1 885.1 L748.3 883.7 L749.5 885.9 L750.7 884.7 L751.9 886.4 L753.1 883.7 L754.3 881.2 L755.5 881.5 L756.7 880.4 L757.9 879.5 L759.1 883.4 L760.3 882.2 L761.5 878.3 L762.7 883.0 L763.9 879.9 L765.1 877.4 L766.3 879.2 L767.5 877.9 L768.7 876.1 L769.9 873.5 L771.1 876.2 L772.3 875.9 L773.5 870.3 L774.7 874.9 L775.9 874.2 L777.1 871.5 L778.3 871.7 L779.5 870.2 L780.7 868.5 L781.9 868.5 L783.1 870.7 L784.3 865.3 L785.5 867.4 L786.7 866.6 L787.9 864.2 L789.1 863.7 L790.3 860.8 L791.5 859.7 L792.7 858.4 L793.9 855.9 L795.1 850.7 L796.3 854.6 L797.5 846.2 L798.7 845.8 L799.9 843.9 L801.1 842.0 L802.3 842.6 L803.5 835.3 L804.7 831.1 L805.9 822.3 L807.1 808.6 L808.3 809.7 L809.5 806.1 L810.7 811.0 L811.9 803.7 L813.1 799.5 L814.3 793.7 L815.5 789.3 L816.7 783.4 L817.9 775.8 L819.1 768.6 L820.3 761.2 L821.5 749.7 L822.7 741.1 L823.9 726.1 L825.1 720.3 L826.3 713.2 L827.5 706.1 L828.7 699.6 L829.9 694.9 L831.1 697.1 L832.3 700.1 L833.5 706.6 L834.7 715.5 L835.9 720.6 L837.1 725.4 L838.3 732.6 L839.5 737.9 L840.7 749.6 L841.9 758.5 L843.1 765.6 L844.3 772.5 L845.5 784.5 L846.7 788.4 L847.9 799.3 L849.1 799.7 L850.3 810.8 L851.5 816.1 L852.7 822.4 L853.9 827.7 L855.1 828.4 L856.3 832.1 L857.5 834.5 L858.7 836.1 L859.9 838.4 L861.1 840.5 L862.3 841.7 L863.5 842.5 L864.7 843.3 L865.9 844.0 L867.1 846.6 L868.3 848.9 L869.5 852.7 L870.7 852.5 L871.9 852.3 L873.1 856.8 L874.3 855.5 L875.5 856.7 L876.7 858.7 L877.9 860.8 L879.1 856.7 L880.3 859.7 L881.5 862.6 L882.7 862.3 L883.9 862.1 L885.1 863.3 L886.3 867.1 L887.5 864.5 L888.7 866.9 L889.9 867.4 L891.1 865.5 L892.3 867.1 L893.5 865.5 L894.7 865.0 L895.9 863.9 L897.1 867.0 L898.3 864.4 L899.5 863.7 L900.7 862.3 L901.9 866.8 L903.1 864.4 L904.3 862.4 L905.5 860.9 L906.7 859.0 L907.9 861.6 L909.1 861.2 L910.3 857.9 L911.5 861.9 L912.7 860.9 L913.9 857.6 L915.1 857.9 L916.3 857.7 L917.5 858.2 L918.7 857.1 L919.9 853.9 L921.1 858.2 L922.3 854.4 L923.5 853.7 L924.7 850.9 L925.9 845.5 L927.1 843.5 L928.3 841.4 L929.5 838.6 L930.7 833.8 L931.9 829.4 L933.1 826.3 L934.3 819.3 L935.5 813.2 L936.7 803.6 L937.9 799.2 L939.1 788.2 L940.3 779.0 L941.5 773.5 L942.7 769.4 L943.9 767.6 L945.1 759.2 L946.3 750.3 L947.5 748.5 L948.7 746.3 L949.9 749.3 L951.1 750.1 L952.3 753.5 L953.5 757.6 L954.7 762.0 L955.9 766.8 L957.1 775.7 L958.3 781.7 L959.5 787.0 L960.7 787.0 L961.9 789.3 L963.1 793.9 L964.3 797.9 L965.5 805.3 L966.7 810.0 L967.9 815.9 L969.1 825.5 L970.3 833.8 L971.5 839.3 L972.7 850.1 L973.9 854.2 L975.1 862.1 L976.3 866.1 L977.5 871.5 L978.7 874.4 L979.9 877.8 L981.1 880.6 L982.3 884.2 L983.5 886.1 L984.7 887.0 L985.9 887.8 L987.1 893.9 L988.3 895.8 L989.5 894.0 L990.7 896.9 L991.9 894.3 L993.1 895.1 L994.3 898.0 L995.5 901.7 L996.7 898.1 L997.9 899.1 L999.1 903.9 L1000.3 898.6 L1001.5 903.5 L1002.7 903.8 L1003.9 903.1 L1005.1 904.3 L1006.3 908.9 L1007.5 902.9 L1008.7 904.7 L1009.9 905.2 L1011.1 904.8 L1012.3 904.0 L1013.5 909.3 L1014.7 907.2 L1015.9 904.1 L1017.1 906.1 L1018.3 908.1 L1019.5 908.2 L1020.7 905.2 L1021.9 907.6 L1023.1 908.3 L1024.3 908.6 L1025.5 908.7 L1026.7 905.1 L1027.9 911.4 L1029.1 908.7 L1030.3 911.5 L1031.5 913.4 L1032.7 908.3 L1033.9 906.6 L1035.1 910.2 L1036.3 908.5 L1037.5 908.1 L1038.7 907.2 L1039.9 911.9 L1041.1 908.4 L1042.3 906.8 L1043.5 908.5 L1044.7 907.4 L1045.9 909.7 L1047.1 908.8 L1048.3 907.7 L1049.5 910.6 L1050.7 908.5 L1051.9 910.9 L1053.1 911.9 L1054.3 909.2 L1055.5 908.8 L1056.7 910.2 L1057.9 911.5 L1059.1 910.0 L1060.3 910.3 L1061.5 910.1 L1062.7 910.7 L1063.9 911.3 L1065.1 909.0 L1066.3 909.4 L1067.5 910.4 L1068.7 909.2 L1069.9 910.6 L1071.1 911.3 L1072.3 910.4 L1073.5 909.5 L1074.7 909.2 L1075.9 913.5 L1077.1 912.1 L1078.3 908.7 L1079.5 909.2 L1080.7 913.8 L1081.9 913.3 L1083.1 910.9 L1084.3 912.7 L1085.5 908.2 L1086.7 910.8 L1087.9 912.1 L1089.1 907.7 L1090.3 909.5 L1091.5 912.2 L1092.7 912.8 L1093.9 909.9 L1095.1 911.4 L1096.3 913.7 L1097.5 910.3 L1098.7 908.7 L1099.9 910.9 L1101.1 910.3 L1102.3 913.2 L1103.5 911.3 L1104.7 909.7 L1105.9 915.2 L1107.1 910.2 L1108.3 911.9 L1109.5 912.3 L1110.7 912.5 L1111.9 911.4 L1113.1 912.2 L1114.3 911.1 L1115.5 908.8 L1116.7 910.8 L1117.9 910.9 L1119.1 910.9 L1120.3 911.5 L1121.5 910.2 L1122.7 913.5 L1123.9 914.0 L1125.1 907.6 L1126.3 911.3 L1127.5 910.1 L1128.7 906.9 L1129.9 912.1 L1131.1 910.3 L1132.3 898.8 L1133.5 910.3 L1134.7 913.3 L1135.9 913.5 L1137.1 911.9 L1138.3 912.6 L1139.5 911.3 L1140.7 911.7 L1141.9 910.2 L1143.1 911.6 L1144.3 910.3 L1145.5 912.2 L1146.7 913.0 L1147.9 912.1 L1149.1 913.6 L1150.3 916.2 L1151.5 908.0 L1152.7 911.6 L1153.9 910.6 L1155.1 910.8 L1156.3 909.3 L1157.5 911.7 L1158.7 911.2 L1159.9 910.6 L1161.1 911.2 L1162.3 910.7 L1163.5 907.7 L1164.7 913.5 L1165.9 911.2 L1167.1 910.1 L1168.3 912.3 L1169.5 900.6 L1170.7 908.1 L1171.9 913.3 L1173.1 908.9 L1174.3 911.4 L1175.5 912.0 L1176.7 914.1 L1177.9 913.8 L1179.1 912.1 L1180.3 910.5 L1181.5 911.1 L1182.7 913.7 L1183.9 914.9 L1185.1 912.8 L1186.3 910.8 L1187.5 913.6 L1188.7 911.3 L1189.9 911.2 L1191.1 911.4 L1192.3 912.9 L1193.5 912.4 L1194.7 913.6 L1195.9 914.1 L1197.1 912.8 L1198.3 908.0 L1199.5 909.1 L1200.7 912.2 L1201.9 911.9 L1203.1 915.6 L1204.3 911.9 L1205.5 911.7 L1206.7 913.6 L1207.9 913.8 L1209.1 911.6 L1210.3 912.8 L1211.5 910.1 L1212.7 910.4 L1213.9 914.1 L1215.1 909.6 L1216.3 913.6 L1217.5 913.2 L1218.7 913.3 L1219.9 913.6 L1221.1 913.0 L1222.3 908.4 L1223.5 910.3 L1224.7 911.0 L1225.9 913.6 L1227.1 910.1 L1228.3 910.9 L1229.5 911.5 L1230.7 914.3 L1231.9 909.6 L1233.1 909.8 L1234.3 913.1 L1235.5 908.5 L1236.7 912.7 L1237.9 911.3 L1239.1 909.4 L1240.3 911.4 L1241.5 910.4 L1242.7 912.4 L1243.9 912.7 L1245.1 914.6 L1246.3 912.1 L1247.5 912.3 L1248.7 911.1 L1249.9 912.1 L1251.1 913.9 L1252.3 908.8 L1253.5 913.2 L1254.7 911.2 L1255.9 912.2 L1257.1 912.6 L1258.3 913.5 L1259.5 912.5 L1260.7 911.4 L1261.9 912.6 L1263.1 912.1 L1264.3 911.7 L1265.5 912.4 L1266.7 913.5 L1267.9 912.2 L1269.1 912.2 L1270.3 909.8 L1271.5 911.7 L1272.7 908.8 L1273.9 913.1 L1275.1 910.3 L1276.3 914.0 L1277.5 916.9 L1278.7 911.1 L1279.9 914.0 L1281.1 912.4 L1282.3 910.8 L1283.5 910.2 L1284.7 912.6 L1285.9 914.0 L1287.1 912.2 L1288.3 909.0 L1289.5 909.7 L1290.7 911.1 L1291.9 913.7 L1293.1 911.9 L1294.3 911.9 L1295.5 913.4 L1296.7 910.9 L1297.9 911.1 L1299.1 910.9 L1300.3 908.1 L1301.5 911.9 L1302.7 911.8 L1303.9 912.7 L1305.1 909.0 L1306.3 909.5 L1307.5 912.5 L1308.7 911.4 L1309.9 913.1 L1311.1 909.3 L1312.3 911.0 L1313.5 909.5 L1314.7 911.1 L1315.9 909.7 L1317.1 911.4 L1318.3 912.3 L1319.5 911.5 L1320.7 907.3 L1321.9 911.9 L1323.1 911.0 L1324.3 908.4 L1325.5 908.6 L1326.7 910.1 L1327.9 911.0 L1329.1 909.2 L1330.3 907.2 L1331.5 910.3 L1332.7 910.1 L1333.9 913.9 L1335.1 907.5 L1336.3 913.9 L1337.5 912.5 L1338.7 910.0 L1339.9 912.3 L1341.1 909.6 L1342.3 911.0 L1343.5 908.0 L1344.7 909.4 L1345.9 907.5 L1347.1 906.4 L1348.3 908.6 L1349.5 907.9 L1350.7 909.9 L1351.9 911.1 L1353.1 898.5 L1354.3 908.9 L1355.5 909.0 L1356.7 905.8 L1357.9 909.1 L1359.1 908.5 L1360.3 908.4 L1361.5 906.5 L1362.7 904.9 L1363.9 907.8 L1365.1 908.6 L1366.3 910.3 L1367.5 909.8 L1368.7 910.2 L1369.9 908.3 L1371.1 909.5 L1372.3 907.1 L1373.5 908.4 L1374.7 908.8 L1375.9 911.7 L1377.1 907.4 L1378.3 904.7 L1379.5 909.1 L1380.7 905.3 L1381.9 906.4 L1383.1 905.9 L1384.3 904.8 L1385.5 908.5 L1386.7 907.2 L1387.9 905.0 L1389.1 906.1 L1390.3 905.2 L1391.5 906.9 L1392.7 905.1 L1393.9 894.4 L1395.1 904.6 L1396.3 904.9 L1397.5 906.1 L1398.7 904.0 L1399.9 905.4 L1401.1 906.4 L1402.3 909.6 L1403.5 907.1 L1404.7 900.6 L1405.9 904.9 L1407.1 905.1 L1408.3 906.4 L1409.5 908.6 L1410.7 907.3 L1411.9 902.2 L1413.1 906.7 L1414.3 906.4 L1415.5 907.0 L1416.7 908.7 L1417.9 904.6 L1419.1 908.4 L1420.3 903.8 L1421.5 906.7 L1422.7 907.3 L1423.9 910.6 L1425.1 905.5 L1426.3 903.8 L1427.5 907.8 L1428.7 905.4 L1429.9 909.1 L1431.1 905.0 L1432.3 904.6 L1433.5 908.0 L1434.7 905.8 L1435.9 907.0 L1437.1 902.6 L1438.3 907.6 L1439.5 903.4 L1440.7 905.5 L1441.9 902.1 L1443.1 900.8 L1444.3 902.6 L1445.5 903.0 L1446.7 905.0 L1447.9 902.5 L1449.1 902.6 L1450.3 902.0 L1451.5 905.6 L1452.7 898.2 L1453.9 901.1 L1455.1 898.0 L1456.3 897.9 L1457.5 895.8 L1458.7 897.9 L1459.9 893.0 L1461.1 892.0 L1462.3 893.1 L1463.5 890.7 L1464.7 893.0 L1465.9 892.4 L1467.1 888.6 L1468.3 890.2 L1469.5 886.7 L1470.7 886.8 L1471.9 885.9 L1473.1 888.1 L1474.3 884.0 L1475.5 881.5 L1476.7 880.6 L1477.9 883.3 L1479.1 877.5 L1480.3 878.7 L1481.5 878.1 L1482.7 873.8 L1483.9 876.6 L1485.1 878.4 L1486.3 876.5 L1487.5 873.9 L1488.7 876.0 L1489.9 875.1 L1491.1 877.2 L1492.3 872.1 L1493.5 872.5 L1494.7 873.2 L1495.9 873.1 L1497.1 873.9 L1498.3 874.2 L1499.5 874.0 L1500.7 873.4 L1501.9 876.1 L1503.1 875.6 L1504.3 877.1 L1505.5 878.8 L1506.7 881.4 L1507.9 882.9 L1509.1 880.5 L1510.3 883.7 L1511.5 885.5 L1512.7 884.9 L1513.9 883.2 L1515.1 883.2 L1516.3 889.1 L1517.5 890.3 L1518.7 890.1 L1519.9 888.9 L1521.1 894.2 L1522.3 894.9 L1523.5 893.9 L1524.7 894.7 L1525.9 892.7 L1527.1 898.1 L1528.3 894.8 L1529.5 899.2 L1530.7 899.6 L1531.9 898.8 L1533.1 901.5 L1534.3 898.5 L1535.5 900.3 L1536.7 900.9 L1537.9 900.1 L1539.1 899.1 L1540.3 902.1 L1541.5 900.8 L1542.7 899.9 L1543.9 900.0 L1545.1 900.5 L1546.3 904.2 L1547.5 900.5 L1548.7 900.0 L1549.9 898.5 L1551.1 898.3 L1552.3 897.1 L1553.5 900.8 L1554.7 900.4 L1555.9 898.6 L1557.1 897.8 L1558.3 899.8 L1559.5 899.5 L1560.7 898.1 L1561.9 900.9 L1563.1 900.6 L1564.3 900.3 L1565.5 901.7 L1566.7 899.2 L1567.9 902.7 L1569.1 898.6 L1570.3 891.2 L1571.5 901.4 L1572.7 899.8 L1573.9 900.8 L1575.1 897.9 L1576.3 897.5 L1577.5 899.6 L1578.7 898.6 L1579.9 900.7 L1581.1 899.7 L1582.3 900.5 L1583.5 899.9 L1584.7 899.6 L1585.9 899.3 L1587.1 898.3 L1588.3 898.0 L1589.5 902.1 L1590.7 895.6 L1591.9 898.1 L1593.1 900.0 L1594.3 898.9 L1595.5 900.4 L1596.7 898.8 L1597.9 895.6 L1599.1 897.1 L1600.3 895.2 L1601.5 899.2 L1602.7 899.9 L1603.9 896.6 L1605.1 898.2 L1606.3 896.5 L1607.5 894.7 L1608.7 896.4 L1609.9 894.4 L1611.1 896.2 L1612.3 897.6 L1613.5 898.5 L1614.7 899.6 L1615.9 897.0 L1617.1 898.2 L1618.3 898.7 L1619.5 899.1 L1620.7 893.6 L1621.9 897.3 L1623.1 900.3 L1624.3 897.2 L1625.5 899.8 L1626.7 901.0 L1627.9 896.6 L1629.1 899.7 L1630.3 900.6 L1631.5 900.4 L1632.7 897.9 L1633.9 901.3 L1635.1 899.9 L1636.3 902.4 L1637.5 901.8 L1638.7 900.3 L1639.9 901.7 L1641.1 900.3 L1642.3 900.4 L1643.5 899.1 L1644.7 901.5 L1645.9 903.4 L1647.1 902.3 L1648.3 902.2 L1649.5 901.3" fill="none" stroke="#62629f" stroke-width="1.8" stroke-linejoin="round"/>
<path d="M283.0 965.5 L284.2 957.8 L285.4 963.1 L286.6 961.6 L287.8 962.0 L289.0 962.5 L290.2 959.7 L291.4 962.9 L292.6 962.0 L293.8 969.3 L295.0 964.2 L296.2 963.4 L297.4 963.7 L298.6 963.2 L299.8 962.7 L301.0 964.0 L302.2 965.6 L303.4 964.6 L304.6 966.8 L305.8 965.0 L307.0 965.5 L308.2 968.2 L309.4 966.7 L310.6 965.1 L311.8 965.8 L313.0 967.1 L314.2 969.6 L315.4 966.0 L316.6 966.2 L317.8 968.5 L319.0 965.4 L320.2 966.6 L321.4 968.7 L322.6 968.3 L323.8 967.6 L325.0 968.7 L326.2 962.9 L327.4 969.5 L328.6 966.3 L329.8 965.2 L331.0 968.6 L332.2 969.4 L333.4 967.6 L334.6 966.6 L335.8 968.6 L337.0 968.6 L338.2 971.1 L339.4 970.1 L340.6 969.3 L341.8 970.9 L343.0 968.8 L344.2 967.6 L345.4 970.3 L346.6 970.4 L347.8 969.1 L349.0 968.2 L350.2 970.0 L351.4 965.5 L352.6 971.0 L353.8 970.7 L355.0 967.2 L356.2 970.2 L357.4 968.5 L358.6 971.5 L359.8 966.9 L361.0 968.8 L362.2 971.7 L363.4 972.5 L364.6 967.0 L365.8 969.9 L367.0 971.4 L368.2 969.8 L369.4 973.7 L370.6 969.0 L371.8 971.7 L373.0 969.4 L374.2 973.7 L375.4 971.3 L376.6 970.8 L377.8 968.6 L379.0 974.5 L380.2 973.0 L381.4 973.1 L382.6 973.8 L383.8 972.6 L385.0 971.0 L386.2 970.8 L387.4 970.9 L388.6 974.7 L389.8 970.1 L391.0 971.6 L392.2 972.2 L393.4 973.3 L394.6 974.0 L395.8 971.1 L397.0 970.4 L398.2 973.4 L399.4 975.6 L400.6 975.0 L401.8 974.2 L403.0 973.4 L404.2 974.6 L405.4 973.8 L406.6 975.7 L407.8 973.1 L409.0 974.8 L410.2 974.4 L411.4 975.6 L412.6 975.2 L413.8 979.2 L415.0 977.5 L416.2 977.5 L417.4 971.5 L418.6 974.4 L419.8 974.0 L421.0 975.9 L422.2 971.1 L423.4 977.0 L424.6 976.8 L425.8 972.8 L427.0 973.3 L428.2 959.6 L429.4 975.0 L430.6 976.1 L431.8 978.4 L433.0 974.6 L434.2 976.3 L435.4 975.2 L436.6 977.9 L437.8 976.2 L439.0 977.2 L440.2 973.1 L441.4 974.5 L442.6 973.5 L443.8 977.4 L445.0 975.9 L446.2 974.3 L447.4 974.0 L448.6 975.6 L449.8 973.6 L451.0 973.1 L452.2 975.5 L453.4 978.9 L454.6 974.2 L455.8 973.7 L457.0 972.6 L458.2 972.3 L459.4 975.4 L460.6 976.0 L461.8 974.5 L463.0 975.0 L464.2 974.6 L465.4 974.6 L466.6 971.8 L467.8 973.5 L469.0 974.5 L470.2 972.9 L471.4 973.4 L472.6 972.6 L473.8 973.1 L475.0 974.7 L476.2 972.0 L477.4 971.8 L478.6 972.7 L479.8 971.7 L481.0 972.8 L482.2 965.6 L483.4 970.0 L484.6 967.1 L485.8 967.6 L487.0 968.3 L488.2 968.4 L489.4 968.2 L490.6 966.7 L491.8 969.3 L493.0 966.5 L494.2 967.2 L495.4 969.4 L496.6 967.8 L497.8 973.1 L499.0 972.0 L500.2 974.7 L501.4 971.8 L502.6 971.9 L503.8 973.5 L505.0 975.1 L506.2 973.4 L507.4 975.4 L508.6 975.0 L509.8 977.9 L511.0 974.2 L512.2 977.2 L513.4 974.4 L514.6 974.0 L515.8 974.6 L517.0 973.9 L518.2 976.3 L519.4 977.9 L520.6 976.5 L521.8 977.4 L523.0 979.2 L524.2 977.0 L525.4 977.0 L526.6 976.3 L527.8 974.1 L529.0 978.2 L530.2 974.0 L531.4 978.2 L532.6 977.1 L533.8 979.1 L535.0 977.2 L536.2 976.0 L537.4 978.0 L538.6 976.5 L539.8 977.2 L541.0 977.6 L542.2 977.4 L543.4 977.3 L544.6 976.3 L545.8 977.4 L547.0 974.1 L548.2 977.5 L549.4 975.8 L550.6 979.7 L551.8 980.0 L553.0 974.6 L554.2 978.1 L555.4 977.7 L556.6 976.1 L557.8 978.8 L559.0 977.1 L560.2 974.9 L561.4 977.4 L562.6 977.6 L563.8 978.1 L565.0 975.8 L566.2 978.9 L567.4 979.2 L568.6 976.0 L569.8 976.8 L571.0 977.8 L572.2 976.9 L573.4 980.9 L574.6 978.3 L575.8 976.2 L577.0 976.6 L578.2 977.8 L579.4 981.8 L580.6 977.6 L581.8 978.1 L583.0 978.8 L584.2 977.8 L585.4 981.8 L586.6 977.0 L587.8 979.2 L589.0 978.2 L590.2 979.0 L591.4 975.9 L592.6 980.9 L593.8 977.7 L595.0 978.0 L596.2 976.3 L597.4 976.7 L598.6 978.9 L599.8 979.6 L601.0 979.2 L602.2 980.0 L603.4 979.1 L604.6 977.9 L605.8 979.3 L607.0 978.9 L608.2 977.7 L609.4 979.1 L610.6 980.1 L611.8 978.3 L613.0 977.3 L614.2 979.1 L615.4 981.1 L616.6 977.5 L617.8 977.7 L619.0 977.6 L620.2 979.9 L621.4 974.7 L622.6 978.4 L623.8 979.8 L625.0 976.4 L626.2 980.3 L627.4 978.6 L628.6 976.7 L629.8 978.0 L631.0 975.0 L632.2 976.6 L633.4 980.6 L634.6 975.9 L635.8 980.5 L637.0 977.2 L638.2 978.9 L639.4 977.2 L640.6 973.3 L641.8 976.1 L643.0 977.3 L644.2 974.9 L645.4 974.5 L646.6 977.3 L647.8 975.5 L649.0 973.7 L650.2 975.3 L651.4 977.8 L652.6 963.5 L653.8 977.8 L655.0 978.7 L656.2 976.0 L657.4 974.0 L658.6 973.6 L659.8 975.6 L661.0 977.1 L662.2 975.9 L663.4 976.3 L664.6 974.5 L665.8 975.6 L667.0 974.2 L668.2 974.3 L669.4 972.6 L670.6 972.0 L671.8 973.7 L673.0 972.5 L674.2 972.7 L675.4 975.3 L676.6 973.9 L677.8 978.9 L679.0 975.4 L680.2 972.6 L681.4 974.9 L682.6 974.0 L683.8 972.1 L685.0 975.0 L686.2 971.6 L687.4 967.5 L688.6 973.8 L689.8 971.2 L691.0 974.5 L692.2 970.6 L693.4 969.5 L694.6 973.8 L695.8 969.1 L697.0 971.0 L698.2 972.8 L699.4 970.3 L700.6 969.6 L701.8 969.7 L703.0 970.6 L704.2 967.6 L705.4 969.7 L706.6 969.4 L707.8 972.1 L709.0 967.4 L710.2 966.2 L711.4 968.8 L712.6 966.6 L713.8 967.7 L715.0 967.2 L716.2 968.9 L717.4 965.6 L718.6 966.4 L719.8 962.1 L721.0 964.9 L722.2 968.9 L723.4 965.0 L724.6 964.9 L725.8 963.9 L727.0 966.8 L728.2 966.0 L729.4 963.6 L730.6 966.7 L731.8 965.9 L733.0 966.6 L734.2 964.2 L735.4 968.1 L736.6 965.7 L737.8 964.7 L739.0 963.9 L740.2 964.3 L741.4 966.0 L742.6 963.9 L743.8 966.1 L745.0 965.1 L746.2 966.2 L747.4 965.1 L748.6 963.5 L749.8 960.2 L751.0 963.7 L752.2 964.3 L753.4 963.1 L754.6 963.5 L755.8 961.5 L757.0 961.4 L758.2 960.2 L759.4 963.9 L760.6 961.6 L761.8 960.2 L763.0 958.4 L764.2 960.1 L765.4 962.5 L766.6 960.5 L767.8 958.1 L769.0 961.3 L770.2 960.9 L771.4 959.6 L772.6 958.7 L773.8 958.8 L775.0 957.1 L776.2 956.9 L777.4 953.6 L778.6 956.8 L779.8 954.0 L781.0 956.4 L782.2 948.8 L783.4 952.8 L784.6 952.6 L785.8 949.7 L787.0 950.2 L788.2 949.9 L789.4 948.6 L790.6 945.4 L791.8 944.3 L793.0 944.1 L794.2 942.1 L795.4 937.7 L796.6 935.3 L797.8 933.6 L799.0 933.4 L800.2 928.4 L801.4 926.3 L802.6 926.7 L803.8 921.9 L805.0 916.8 L806.2 909.3 L807.4 905.7 L808.6 900.8 L809.8 902.4 L811.0 896.7 L812.2 899.2 L813.4 893.4 L814.6 890.7 L815.8 889.0 L817.0 881.4 L818.2 874.6 L819.4 868.3 L820.6 862.4 L821.8 854.0 L823.0 846.0 L824.2 841.4 L825.4 834.8 L826.6 832.7 L827.8 829.9 L829.0 828.8 L830.2 824.4 L831.4 823.2 L832.6 824.5 L833.8 830.9 L835.0 838.7 L836.2 841.3 L837.4 847.9 L838.6 852.7 L839.8 855.9 L841.0 863.5 L842.2 870.1 L843.4 879.5 L844.6 886.8 L845.8 887.9 L847.0 893.5 L848.2 894.8 L849.4 904.4 L850.6 908.8 L851.8 910.7 L853.0 916.8 L854.2 915.3 L855.4 919.8 L856.6 922.5 L857.8 922.0 L859.0 927.5 L860.2 929.6 L861.4 927.1 L862.6 928.7 L863.8 933.5 L865.0 933.8 L866.2 933.0 L867.4 935.8 L868.6 937.2 L869.8 938.2 L871.0 940.8 L872.2 940.9 L873.4 944.1 L874.6 944.2 L875.8 943.8 L877.0 945.3 L878.2 946.6 L879.4 946.3 L880.6 943.8 L881.8 948.0 L883.0 947.3 L884.2 950.5 L885.4 948.3 L886.6 949.3 L887.8 949.1 L889.0 951.3 L890.2 948.7 L891.4 947.9 L892.6 948.7 L893.8 947.2 L895.0 948.1 L896.2 947.6 L897.4 947.8 L898.6 950.3 L899.8 946.1 L901.0 946.6 L902.2 945.9 L903.4 947.1 L904.6 943.7 L905.8 944.3 L907.0 945.2 L908.2 946.0 L909.4 944.7 L910.6 943.7 L911.8 942.8 L913.0 944.8 L914.2 946.0 L915.4 943.7 L916.6 943.0 L917.8 942.8 L919.0 939.6 L920.2 939.8 L921.4 938.8 L922.6 938.5 L923.8 936.7 L925.0 933.2 L926.2 935.4 L927.4 934.2 L928.6 928.4 L929.8 926.8 L931.0 923.6 L932.2 921.2 L933.4 913.5 L934.6 914.1 L935.8 905.1 L937.0 899.4 L938.2 888.5 L939.4 882.5 L940.6 878.8 L941.8 877.1 L943.0 871.1 L944.2 868.8 L945.4 865.2 L946.6 859.6 L947.8 862.1 L949.0 859.8 L950.2 860.2 L951.4 865.8 L952.6 866.7 L953.8 872.4 L955.0 879.1 L956.2 881.6 L957.4 879.9 L958.6 881.4 L959.8 888.3 L961.0 894.6 L962.2 894.8 L963.4 898.4 L964.6 903.3 L965.8 905.2 L967.0 912.6 L968.2 919.7 L969.4 924.9 L970.6 930.7 L971.8 934.9 L973.0 942.0 L974.2 944.4 L975.4 950.8 L976.6 956.0 L977.8 953.0 L979.0 952.9 L980.2 958.0 L981.4 961.3 L982.6 964.3 L983.8 966.1 L985.0 964.5 L986.2 965.8 L987.4 970.5 L988.6 967.4 L989.8 971.9 L991.0 970.3 L992.2 972.6 L993.4 973.0 L994.6 973.5 L995.8 973.8 L997.0 971.0 L998.2 973.3 L999.4 973.1 L1000.6 973.8 L1001.8 975.5 L1003.0 973.2 L1004.2 972.6 L1005.4 972.7 L1006.6 973.6 L1007.8 975.6 L1009.0 973.1 L1010.2 976.6 L1011.4 975.3 L1012.6 974.6 L1013.8 972.9 L1015.0 975.7 L1016.2 976.6 L1017.4 972.6 L1018.6 977.8 L1019.8 978.7 L1021.0 976.6 L1022.2 977.0 L1023.4 980.4 L1024.6 978.6 L1025.8 975.1 L1027.0 976.7 L1028.2 976.6 L1029.4 976.7 L1030.6 973.1 L1031.8 978.5 L1033.0 976.2 L1034.2 977.7 L1035.4 977.3 L1036.6 979.1 L1037.8 977.3 L1039.0 976.5 L1040.2 978.9 L1041.4 980.5 L1042.6 977.6 L1043.8 980.6 L1045.0 978.8 L1046.2 977.5 L1047.4 981.1 L1048.6 977.2 L1049.8 980.4 L1051.0 978.0 L1052.2 979.6 L1053.4 976.9 L1054.6 977.6 L1055.8 980.9 L1057.0 979.5 L1058.2 979.3 L1059.4 978.6 L1060.6 980.2 L1061.8 977.1 L1063.0 977.6 L1064.2 979.3 L1065.4 978.2 L1066.6 978.5 L1067.8 979.7 L1069.0 979.6 L1070.2 979.5 L1071.4 982.8 L1072.6 981.7 L1073.8 982.2 L1075.0 980.1 L1076.2 979.3 L1077.4 977.7 L1078.6 979.7 L1079.8 976.8 L1081.0 979.4 L1082.2 981.7 L1083.4 983.2 L1084.6 982.1 L1085.8 979.1 L1087.0 981.4 L1088.2 979.3 L1089.4 982.1 L1090.6 980.5 L1091.8 982.2 L1093.0 985.2 L1094.2 982.4 L1095.4 984.8 L1096.6 981.2 L1097.8 980.4 L1099.0 983.2 L1100.2 983.9 L1101.4 980.1 L1102.6 981.2 L1103.8 978.7 L1105.0 980.8 L1106.2 982.7 L1107.4 981.1 L1108.6 980.3 L1109.8 978.9 L1111.0 981.9 L1112.2 982.7 L1113.4 982.4 L1114.6 981.9 L1115.8 979.3 L1117.0 984.5 L1118.2 981.4 L1119.4 981.3 L1120.6 982.8 L1121.8 977.9 L1123.0 981.5 L1124.2 981.4 L1125.4 982.3 L1126.6 984.0 L1127.8 982.6 L1129.0 978.7 L1130.2 981.3 L1131.4 970.2 L1132.6 982.1 L1133.8 979.8 L1135.0 979.1 L1136.2 982.9 L1137.4 982.6 L1138.6 982.0 L1139.8 979.1 L1141.0 985.1 L1142.2 977.2 L1143.4 981.5 L1144.6 985.7 L1145.8 982.0 L1147.0 982.6 L1148.2 980.3 L1149.4 984.6 L1150.6 980.1 L1151.8 982.8 L1153.0 982.6 L1154.2 980.6 L1155.4 983.9 L1156.6 980.1 L1157.8 981.3 L1159.0 982.5 L1160.2 981.8 L1161.4 983.4 L1162.6 984.2 L1163.8 982.1 L1165.0 981.7 L1166.2 981.8 L1167.4 982.1 L1168.6 984.1 L1169.8 972.4 L1171.0 983.5 L1172.2 982.6 L1173.4 981.4 L1174.6 984.3 L1175.8 981.1 L1177.0 982.9 L1178.2 985.4 L1179.4 981.1 L1180.6 982.8 L1181.8 980.3 L1183.0 982.1 L1184.2 980.5 L1185.4 982.4 L1186.6 982.1 L1187.8 983.3 L1189.0 985.8 L1190.2 983.6 L1191.4 984.2 L1192.6 983.0 L1193.8 982.7 L1195.0 981.7 L1196.2 980.1 L1197.4 983.3 L1198.6 986.0 L1199.8 984.0 L1201.0 982.3 L1202.2 986.1 L1203.4 982.5 L1204.6 982.2 L1205.8 981.2 L1207.0 981.7 L1208.2 982.9 L1209.4 986.8 L1210.6 983.0 L1211.8 981.6 L1213.0 982.4 L1214.2 983.0 L1215.4 980.5 L1216.6 983.6 L1217.8 984.6 L1219.0 984.0 L1220.2 984.5 L1221.4 981.3 L1222.6 980.6 L1223.8 985.7 L1225.0 985.4 L1226.2 980.9 L1227.4 983.9 L1228.6 983.6 L1229.8 984.5 L1231.0 983.9 L1232.2 982.7 L1233.4 983.9 L1234.6 983.8 L1235.8 983.5 L1237.0 980.4 L1238.2 978.5 L1239.4 982.2 L1240.6 980.8 L1241.8 984.0 L1243.0 984.8 L1244.2 984.0 L1245.4 983.0 L1246.6 983.7 L1247.8 985.6 L1249.0 982.4 L1250.2 985.2 L1251.4 984.8 L1252.6 984.0 L1253.8 986.1 L1255.0 982.4 L1256.2 985.2 L1257.4 982.0 L1258.6 982.3 L1259.8 981.8 L1261.0 984.3 L1262.2 982.0 L1263.4 983.6 L1264.6 981.6 L1265.8 985.3 L1267.0 986.6 L1268.2 983.9 L1269.4 986.2 L1270.6 984.4 L1271.8 987.1 L1273.0 983.6 L1274.2 980.7 L1275.4 985.9 L1276.6 983.1 L1277.8 981.5 L1279.0 982.1 L1280.2 980.5 L1281.4 982.9 L1282.6 981.3 L1283.8 985.7 L1285.0 984.2 L1286.2 980.2 L1287.4 980.5 L1288.6 982.0 L1289.8 979.7 L1291.0 982.7 L1292.2 982.8 L1293.4 981.5 L1294.6 981.9 L1295.8 983.6 L1297.0 985.1 L1298.2 985.2 L1299.4 982.7 L1300.6 984.0 L1301.8 981.3 L1303.0 983.2 L1304.2 980.8 L1305.4 983.6 L1306.6 980.2 L1307.8 980.6 L1309.0 982.2 L1310.2 983.1 L1311.4 979.7 L1312.6 981.2 L1313.8 982.3 L1315.0 982.4 L1316.2 980.5 L1317.4 982.0 L1318.6 981.4 L1319.8 984.1 L1321.0 982.6 L1322.2 979.4 L1323.4 977.8 L1324.6 981.7 L1325.8 983.5 L1327.0 981.7 L1328.2 982.9 L1329.4 980.5 L1330.6 978.9 L1331.8 982.5 L1333.0 981.3 L1334.2 982.2 L1335.4 978.7 L1336.6 981.3 L1337.8 979.8 L1339.0 982.2 L1340.2 979.8 L1341.4 979.7 L1342.6 979.7 L1343.8 982.7 L1345.0 980.6 L1346.2 979.2 L1347.4 978.7 L1348.6 978.6 L1349.8 982.8 L1351.0 977.2 L1352.2 968.7 L1353.4 981.2 L1354.6 982.1 L1355.8 979.8 L1357.0 981.3 L1358.2 981.2 L1359.4 981.5 L1360.6 979.8 L1361.8 982.5 L1363.0 979.9 L1364.2 982.1 L1365.4 977.5 L1366.6 980.9 L1367.8 977.1 L1369.0 976.5 L1370.2 979.8 L1371.4 977.5 L1372.6 979.5 L1373.8 976.9 L1375.0 981.3 L1376.2 978.5 L1377.4 976.4 L1378.6 978.5 L1379.8 979.6 L1381.0 976.7 L1382.2 978.8 L1383.4 981.3 L1384.6 979.2 L1385.8 977.7 L1387.0 976.6 L1388.2 978.5 L1389.4 974.9 L1390.6 972.2 L1391.8 976.2 L1393.0 975.4 L1394.2 970.2 L1395.4 977.4 L1396.6 975.5 L1397.8 975.1 L1399.0 978.0 L1400.2 975.7 L1401.4 976.1 L1402.6 977.0 L1403.8 977.4 L1405.0 977.5 L1406.2 977.6 L1407.4 979.8 L1408.6 980.6 L1409.8 975.0 L1411.0 982.4 L1412.2 978.4 L1413.4 980.4 L1414.6 977.2 L1415.8 979.2 L1417.0 979.1 L1418.2 979.1 L1419.4 980.5 L1420.6 980.2 L1421.8 977.5 L1423.0 979.1 L1424.2 980.6 L1425.4 980.5 L1426.6 978.7 L1427.8 978.7 L1429.0 978.7 L1430.2 976.9 L1431.4 976.4 L1432.6 980.9 L1433.8 977.2 L1435.0 977.7 L1436.2 975.9 L1437.4 979.0 L1438.6 979.4 L1439.8 975.6 L1441.0 976.5 L1442.2 973.9 L1443.4 977.8 L1444.6 976.0 L1445.8 972.7 L1447.0 976.0 L1448.2 974.2 L1449.4 974.0 L1450.6 973.6 L1451.8 971.7 L1453.0 971.6 L1454.2 973.3 L1455.4 971.9 L1456.6 970.1 L1457.8 974.9 L1459.0 970.8 L1460.2 969.8 L1461.4 969.2 L1462.6 971.1 L1463.8 971.1 L1465.0 969.2 L1466.2 969.5 L1467.4 964.5 L1468.6 965.5 L1469.8 964.3 L1471.0 964.2 L1472.2 964.1 L1473.4 959.0 L1474.6 967.1 L1475.8 959.6 L1477.0 960.9 L1478.2 961.0 L1479.4 960.3 L1480.6 958.6 L1481.8 952.6 L1483.0 955.1 L1484.2 957.7 L1485.4 954.4 L1486.6 953.7 L1487.8 951.2 L1489.0 957.0 L1490.2 955.5 L1491.4 952.9 L1492.6 954.0 L1493.8 953.9 L1495.0 952.2 L1496.2 953.8 L1497.4 955.0 L1498.6 955.9 L1499.8 957.7 L1501.0 956.2 L1502.2 955.9 L1503.4 958.0 L1504.6 956.9 L1505.8 956.4 L1507.0 961.1 L1508.2 959.2 L1509.4 960.7 L1510.6 962.3 L1511.8 960.1 L1513.0 963.8 L1514.2 964.2 L1515.4 964.0 L1516.6 965.6 L1517.8 964.4 L1519.0 962.7 L1520.2 966.8 L1521.4 966.6 L1522.6 970.5 L1523.8 970.4 L1525.0 969.8 L1526.2 971.6 L1527.4 974.4 L1528.6 974.5 L1529.8 973.4 L1531.0 973.6 L1532.2 972.5 L1533.4 972.8 L1534.6 974.1 L1535.8 973.0 L1537.0 973.7 L1538.2 971.4 L1539.4 970.5 L1540.6 970.5 L1541.8 972.7 L1543.0 975.7 L1544.2 975.5 L1545.4 971.9 L1546.6 971.0 L1547.8 975.0 L1549.0 974.5 L1550.2 971.4 L1551.4 975.5 L1552.6 974.1 L1553.8 976.0 L1555.0 974.4 L1556.2 975.4 L1557.4 974.4 L1558.6 972.3 L1559.8 973.5 L1561.0 972.7 L1562.2 975.3 L1563.4 972.2 L1564.6 971.3 L1565.8 975.1 L1567.0 975.9 L1568.2 976.4 L1569.4 975.8 L1570.6 961.3 L1571.8 972.7 L1573.0 972.9 L1574.2 973.8 L1575.4 970.1 L1576.6 973.7 L1577.8 974.1 L1579.0 971.9 L1580.2 973.7 L1581.4 975.4 L1582.6 973.4 L1583.8 975.0 L1585.0 974.9 L1586.2 973.8 L1587.4 973.6 L1588.6 972.3 L1589.8 974.9 L1591.0 971.9 L1592.2 971.4 L1593.4 973.7 L1594.6 971.2 L1595.8 973.1 L1597.0 974.1 L1598.2 972.4 L1599.4 972.3 L1600.6 973.7 L1601.8 973.3 L1603.0 969.4 L1604.2 969.7 L1605.4 974.2 L1606.6 972.5 L1607.8 968.3 L1609.0 969.5 L1610.2 971.9 L1611.4 970.2 L1612.6 972.6 L1613.8 972.0 L1615.0 972.7 L1616.2 970.0 L1617.4 973.1 L1618.6 975.4 L1619.8 970.8 L1621.0 974.4 L1622.2 974.0 L1623.4 973.5 L1624.6 972.4 L1625.8 970.6 L1627.0 971.2 L1628.2 974.1 L1629.4 974.6 L1630.6 975.2 L1631.8 974.9 L1633.0 974.9 L1634.2 972.8 L1635.4 971.7 L1636.6 974.2 L1637.8 974.9 L1639.0 974.4 L1640.2 971.8 L1641.4 973.7 L1642.6 972.3 L1643.8 975.2 L1645.0 973.4 L1646.2 975.1 L1647.4 976.1 L1648.6 976.0 L1649.8 978.3" fill="none" stroke="#ff0000" stroke-width="1.8" stroke-linejoin="round"/>
<path d="M283.0 1016.9 L284.2 1018.1 L285.4 1021.5 L286.6 1020.2 L287.8 1016.6 L289.0 1019.7 L290.2 1019.0 L291.4 1020.7 L292.6 1018.0 L293.8 1021.5 L295.0 1021.9 L296.2 1024.5 L297.4 1022.6 L298.6 1023.3 L299.8 1020.2 L301.0 1026.9 L302.2 1020.1 L303.4 1025.5 L304.6 1023.4 L305.8 1022.7 L307.0 1023.4 L308.2 1023.7 L309.4 1025.7 L310.6 1025.1 L311.8 1028.1 L313.0 1022.7 L314.2 1026.1 L315.4 1024.8 L316.6 1027.9 L317.8 1023.2 L319.0 1026.4 L320.2 1027.5 L321.4 1024.8 L322.6 1029.2 L323.8 1028.0 L325.0 1029.6 L326.2 1029.7 L327.4 1026.5 L328.6 1027.0 L329.8 1028.1 L331.0 1029.9 L332.2 1030.2 L333.4 1027.6 L334.6 1027.9 L335.8 1027.7 L337.0 1028.2 L338.2 1028.9 L339.4 1029.2 L340.6 1033.0 L341.8 1028.8 L343.0 1029.3 L344.2 1030.6 L345.4 1028.3 L346.6 1029.4 L347.8 1030.2 L349.0 1031.6 L350.2 1028.1 L351.4 1032.8 L352.6 1029.9 L353.8 1030.9 L355.0 1032.1 L356.2 1031.9 L357.4 1032.7 L358.6 1031.2 L359.8 1031.0 L361.0 1031.7 L362.2 1029.5 L363.4 1033.3 L364.6 1030.0 L365.8 1029.3 L367.0 1035.0 L368.2 1031.3 L369.4 1029.6 L370.6 1034.9 L371.8 1031.2 L373.0 1033.6 L374.2 1030.5 L375.4 1031.6 L376.6 1029.2 L377.8 1028.9 L379.0 1030.5 L380.2 1032.1 L381.4 1033.7 L382.6 1036.5 L383.8 1030.7 L385.0 1034.2 L386.2 1031.5 L387.4 1032.4 L388.6 1030.2 L389.8 1030.3 L391.0 1031.5 L392.2 1030.9 L393.4 1033.0 L394.6 1031.9 L395.8 1035.2 L397.0 1033.5 L398.2 1033.5 L399.4 1035.3 L400.6 1034.3 L401.8 1033.4 L403.0 1033.4 L404.2 1033.4 L405.4 1035.5 L406.6 1035.0 L407.8 1034.4 L409.0 1035.1 L410.2 1032.9 L411.4 1034.7 L412.6 1031.5 L413.8 1036.2 L415.0 1034.1 L416.2 1034.3 L417.4 1035.0 L418.6 1034.0 L419.8 1033.6 L421.0 1036.0 L422.2 1034.1 L423.4 1032.3 L424.6 1034.5 L425.8 1030.7 L427.0 1036.2 L428.2 1018.9 L429.4 1033.1 L430.6 1036.6 L431.8 1036.2 L433.0 1032.5 L434.2 1033.2 L435.4 1033.7 L436.6 1034.5 L437.8 1031.1 L439.0 1031.3 L440.2 1032.9 L441.4 1031.1 L442.6 1031.7 L443.8 1031.2 L445.0 1028.1 L446.2 1028.4 L447.4 1025.2 L448.6 1029.1 L449.8 1031.6 L451.0 1027.3 L452.2 1031.2 L453.4 1030.6 L454.6 1028.6 L455.8 1028.5 L457.0 1028.4 L458.2 1026.5 L459.4 1026.9 L460.6 1026.5 L461.8 1026.6 L463.0 1025.8 L464.2 1022.3 L465.4 1024.2 L466.6 1021.1 L467.8 1022.3 L469.0 1023.9 L470.2 1024.4 L471.4 1025.7 L472.6 1027.9 L473.8 1028.0 L475.0 1029.0 L476.2 1030.5 L477.4 1032.6 L478.6 1030.6 L479.8 1033.7 L481.0 1030.3 L482.2 1024.3 L483.4 1027.9 L484.6 1030.7 L485.8 1027.2 L487.0 1025.8 L488.2 1024.5 L489.4 1027.8 L490.6 1027.1 L491.8 1026.5 L493.0 1026.2 L494.2 1028.4 L495.4 1027.9 L496.6 1025.2 L497.8 1029.4 L499.0 1029.4 L500.2 1029.9 L501.4 1032.3 L502.6 1032.1 L503.8 1028.0 L505.0 1036.4 L506.2 1036.2 L507.4 1034.8 L508.6 1034.8 L509.8 1036.0 L511.0 1033.7 L512.2 1036.7 L513.4 1036.0 L514.6 1036.0 L515.8 1035.3 L517.0 1035.9 L518.2 1039.2 L519.4 1039.8 L520.6 1038.6 L521.8 1037.8 L523.0 1036.6 L524.2 1039.5 L525.4 1041.2 L526.6 1035.9 L527.8 1040.8 L529.0 1035.3 L530.2 1038.6 L531.4 1040.0 L532.6 1037.1 L533.8 1037.0 L535.0 1040.1 L536.2 1041.4 L537.4 1039.2 L538.6 1042.4 L539.8 1038.9 L541.0 1043.3 L542.2 1040.6 L543.4 1040.9 L544.6 1041.6 L545.8 1041.2 L547.0 1043.9 L548.2 1044.5 L549.4 1041.8 L550.6 1040.6 L551.8 1038.9 L553.0 1039.7 L554.2 1041.0 L555.4 1040.8 L556.6 1040.9 L557.8 1041.0 L559.0 1041.8 L560.2 1038.7 L561.4 1039.3 L562.6 1042.9 L563.8 1042.4 L565.0 1040.1 L566.2 1043.2 L567.4 1039.9 L568.6 1040.6 L569.8 1037.9 L571.0 1042.4 L572.2 1041.0 L573.4 1042.8 L574.6 1042.2 L575.8 1041.2 L577.0 1041.3 L578.2 1043.0 L579.4 1040.7 L580.6 1040.8 L581.8 1041.1 L583.0 1042.4 L584.2 1042.6 L585.4 1044.3 L586.6 1040.9 L587.8 1043.2 L589.0 1039.9 L590.2 1042.1 L591.4 1041.3 L592.6 1044.0 L593.8 1042.1 L595.0 1040.3 L596.2 1042.1 L597.4 1041.7 L598.6 1040.5 L599.8 1040.6 L601.0 1039.5 L602.2 1045.8 L603.4 1041.3 L604.6 1042.7 L605.8 1039.1 L607.0 1039.2 L608.2 1040.8 L609.4 1040.8 L610.6 1042.4 L611.8 1039.4 L613.0 1042.0 L614.2 1043.7 L615.4 1039.5 L616.6 1042.6 L617.8 1039.4 L619.0 1041.7 L620.2 1041.7 L621.4 1044.0 L622.6 1039.8 L623.8 1041.3 L625.0 1042.7 L626.2 1038.9 L627.4 1040.8 L628.6 1039.3 L629.8 1039.6 L631.0 1041.9 L632.2 1041.9 L633.4 1045.0 L634.6 1042.9 L635.8 1042.7 L637.0 1040.1 L638.2 1039.8 L639.4 1040.5 L640.6 1036.3 L641.8 1042.9 L643.0 1038.9 L644.2 1038.2 L645.4 1039.1 L646.6 1041.3 L647.8 1041.8 L649.0 1039.0 L650.2 1040.2 L651.4 1039.3 L652.6 1025.6 L653.8 1039.5 L655.0 1039.2 L656.2 1036.4 L657.4 1040.8 L658.6 1036.1 L659.8 1039.1 L661.0 1036.8 L662.2 1037.1 L663.4 1037.2 L664.6 1039.5 L665.8 1036.0 L667.0 1037.7 L668.2 1040.6 L669.4 1036.6 L670.6 1037.6 L671.8 1038.7 L673.0 1036.5 L674.2 1038.2 L675.4 1036.1 L676.6 1038.3 L677.8 1037.1 L679.0 1035.3 L680.2 1039.2 L681.4 1036.5 L682.6 1036.1 L683.8 1034.9 L685.0 1035.5 L686.2 1036.0 L687.4 1036.4 L688.6 1037.8 L689.8 1033.5 L691.0 1035.0 L692.2 1037.5 L693.4 1035.6 L694.6 1035.8 L695.8 1037.7 L697.0 1035.4 L698.2 1035.4 L699.4 1034.4 L700.6 1037.3 L701.8 1035.9 L703.0 1032.7 L704.2 1034.7 L705.4 1031.6 L706.6 1035.2 L707.8 1034.4 L709.0 1032.8 L710.2 1032.2 L711.4 1029.6 L712.6 1033.8 L713.8 1032.2 L715.0 1031.7 L716.2 1033.3 L717.4 1030.8 L718.6 1030.8 L719.8 1030.4 L721.0 1029.2 L722.2 1035.4 L723.4 1030.8 L724.6 1030.4 L725.8 1032.4 L727.0 1025.4 L728.2 1030.5 L729.4 1030.5 L730.6 1028.7 L731.8 1030.9 L733.0 1026.5 L734.2 1029.8 L735.4 1031.2 L736.6 1025.7 L737.8 1026.8 L739.0 1028.8 L740.2 1028.8 L741.4 1027.6 L742.6 1029.1 L743.8 1028.6 L745.0 1025.7 L746.2 1027.6 L747.4 1025.4 L748.6 1023.8 L749.8 1022.9 L751.0 1028.5 L752.2 1026.3 L753.4 1029.5 L754.6 1023.4 L755.8 1025.0 L757.0 1025.9 L758.2 1024.8 L759.4 1025.5 L760.6 1024.6 L761.8 1022.9 L763.0 1019.6 L764.2 1021.6 L765.4 1025.8 L766.6 1023.7 L767.8 1024.3 L769.0 1020.4 L770.2 1020.6 L771.4 1018.8 L772.6 1020.3 L773.8 1019.1 L775.0 1019.1 L776.2 1020.6 L777.4 1015.5 L778.6 1017.5 L779.8 1013.1 L781.0 1016.6 L782.2 1013.3 L783.4 1013.2 L784.6 1012.9 L785.8 1014.8 L787.0 1011.1 L788.2 1009.5 L789.4 1007.3 L790.6 1008.6 L791.8 1005.0 L793.0 1003.6 L794.2 1002.2 L795.4 1001.3 L796.6 997.1 L797.8 998.1 L799.0 998.9 L800.2 992.2 L801.4 995.3 L802.6 992.5 L803.8 981.7 L805.0 977.3 L806.2 968.9 L807.4 969.7 L808.6 967.0 L809.8 965.3 L811.0 959.7 L812.2 955.9 L813.4 952.5 L814.6 947.5 L815.8 942.5 L817.0 937.4 L818.2 928.8 L819.4 922.8 L820.6 916.5 L821.8 904.4 L823.0 901.5 L824.2 893.2 L825.4 886.1 L826.6 880.7 L827.8 877.3 L829.0 873.6 L830.2 872.7 L831.4 869.0 L832.6 875.1 L833.8 876.8 L835.0 885.6 L836.2 892.6 L837.4 895.3 L838.6 906.7 L839.8 916.1 L841.0 919.0 L842.2 928.1 L843.4 933.7 L844.6 940.6 L845.8 946.6 L847.0 952.1 L848.2 959.6 L849.4 964.7 L850.6 967.8 L851.8 974.6 L853.0 977.8 L854.2 980.7 L855.4 981.3 L856.6 988.4 L857.8 989.7 L859.0 985.9 L860.2 989.5 L861.4 992.3 L862.6 996.3 L863.8 998.3 L865.0 997.1 L866.2 999.4 L867.4 1001.5 L868.6 999.3 L869.8 1003.6 L871.0 1003.2 L872.2 1005.1 L873.4 1005.6 L874.6 1004.6 L875.8 1005.8 L877.0 1008.5 L878.2 1009.4 L879.4 1009.5 L880.6 1012.5 L881.8 1010.8 L883.0 1010.0 L884.2 1012.1 L885.4 1013.0 L886.6 1013.7 L887.8 1016.5 L889.0 1016.0 L890.2 1017.4 L891.4 1017.0 L892.6 1015.7 L893.8 1017.4 L895.0 1014.5 L896.2 1014.5 L897.4 1011.4 L898.6 1012.3 L899.8 1010.8 L901.0 1011.3 L902.2 1013.5 L903.4 1014.3 L904.6 1011.8 L905.8 1010.0 L907.0 1011.4 L908.2 1010.3 L909.4 1008.8 L910.6 1009.7 L911.8 1009.4 L913.0 1008.7 L914.2 1012.0 L915.4 1008.7 L916.6 1008.7 L917.8 1010.6 L919.0 1008.0 L920.2 1007.1 L921.4 1005.7 L922.6 1004.1 L923.8 999.6 L925.0 996.4 L926.2 992.8 L927.4 990.0 L928.6 991.0 L929.8 984.5 L931.0 983.8 L932.2 978.8 L933.4 977.0 L934.6 973.5 L935.8 971.3 L937.0 957.9 L938.2 957.2 L939.4 945.6 L940.6 941.2 L941.8 936.2 L943.0 928.2 L944.2 925.3 L945.4 922.5 L946.6 918.1 L947.8 914.6 L949.0 915.2 L950.2 915.7 L951.4 914.7 L952.6 922.0 L953.8 922.9 L955.0 921.3 L956.2 926.7 L957.4 934.2 L958.6 937.3 L959.8 938.7 L961.0 939.0 L962.2 945.2 L963.4 951.4 L964.6 954.6 L965.8 958.5 L967.0 963.9 L968.2 973.0 L969.4 977.1 L970.6 983.6 L971.8 989.2 L973.0 996.3 L974.2 998.8 L975.4 1004.0 L976.6 1005.5 L977.8 1014.7 L979.0 1017.6 L980.2 1018.4 L981.4 1016.7 L982.6 1021.5 L983.8 1024.2 L985.0 1029.1 L986.2 1028.0 L987.4 1029.7 L988.6 1031.1 L989.8 1033.5 L991.0 1030.9 L992.2 1032.9 L993.4 1033.7 L994.6 1036.2 L995.8 1036.5 L997.0 1037.5 L998.2 1035.9 L999.4 1038.0 L1000.6 1036.6 L1001.8 1041.9 L1003.0 1037.6 L1004.2 1043.1 L1005.4 1041.8 L1006.6 1037.1 L1007.8 1041.0 L1009.0 1040.6 L1010.2 1037.2 L1011.4 1041.0 L1012.6 1040.0 L1013.8 1041.0 L1015.0 1039.1 L1016.2 1040.6 L1017.4 1041.6 L1018.6 1040.8 L1019.8 1040.2 L1021.0 1041.1 L1022.2 1039.9 L1023.4 1042.3 L1024.6 1037.5 L1025.8 1044.6 L1027.0 1042.2 L1028.2 1043.1 L1029.4 1043.9 L1030.6 1040.4 L1031.8 1046.5 L1033.0 1040.9 L1034.2 1043.7 L1035.4 1043.6 L1036.6 1045.4 L1037.8 1043.2 L1039.0 1041.0 L1040.2 1044.0 L1041.4 1039.4 L1042.6 1043.3 L1043.8 1043.0 L1045.0 1046.5 L1046.2 1043.5 L1047.4 1043.3 L1048.6 1042.8 L1049.8 1042.7 L1051.0 1043.3 L1052.2 1045.4 L1053.4 1042.2 L1054.6 1044.2 L1055.8 1042.1 L1057.0 1044.4 L1058.2 1045.0 L1059.4 1042.7 L1060.6 1043.9 L1061.8 1045.1 L1063.0 1046.3 L1064.2 1046.6 L1065.4 1044.9 L1066.6 1043.4 L1067.8 1042.4 L1069.0 1046.5 L1070.2 1047.6 L1071.4 1045.9 L1072.6 1048.0 L1073.8 1044.6 L1075.0 1044.7 L1076.2 1048.1 L1077.4 1043.8 L1078.6 1046.6 L1079.8 1046.2 L1081.0 1045.9 L1082.2 1048.6 L1083.4 1044.2 L1084.6 1045.0 L1085.8 1042.1 L1087.0 1044.0 L1088.2 1044.9 L1089.4 1045.1 L1090.6 1045.5 L1091.8 1046.4 L1093.0 1044.7 L1094.2 1042.5 L1095.4 1046.2 L1096.6 1046.7 L1097.8 1044.0 L1099.0 1044.6 L1100.2 1049.0 L1101.4 1047.8 L1102.6 1047.9 L1103.8 1047.2 L1105.0 1046.3 L1106.2 1045.2 L1107.4 1047.1 L1108.6 1045.8 L1109.8 1045.4 L1111.0 1046.2 L1112.2 1046.1 L1113.4 1047.7 L1114.6 1044.6 L1115.8 1050.5 L1117.0 1044.6 L1118.2 1045.6 L1119.4 1047.9 L1120.6 1044.9 L1121.8 1045.5 L1123.0 1046.4 L1124.2 1041.3 L1125.4 1045.5 L1126.6 1044.8 L1127.8 1046.0 L1129.0 1047.3 L1130.2 1047.6 L1131.4 1037.1 L1132.6 1049.0 L1133.8 1048.3 L1135.0 1046.5 L1136.2 1048.4 L1137.4 1044.9 L1138.6 1046.4 L1139.8 1049.1 L1141.0 1048.0 L1142.2 1044.3 L1143.4 1045.7 L1144.6 1048.2 L1145.8 1047.8 L1147.0 1048.6 L1148.2 1043.7 L1149.4 1044.6 L1150.6 1046.3 L1151.8 1045.1 L1153.0 1046.7 L1154.2 1046.8 L1155.4 1047.4 L1156.6 1046.6 L1157.8 1047.8 L1159.0 1048.2 L1160.2 1047.2 L1161.4 1044.8 L1162.6 1049.1 L1163.8 1047.3 L1165.0 1047.7 L1166.2 1047.3 L1167.4 1044.2 L1168.6 1048.0 L1169.8 1035.9 L1171.0 1044.9 L1172.2 1049.2 L1173.4 1046.5 L1174.6 1047.5 L1175.8 1048.6 L1177.0 1049.8 L1178.2 1044.0 L1179.4 1045.8 L1180.6 1048.3 L1181.8 1046.0 L1183.0 1041.5 L1184.2 1047.4 L1185.4 1047.5 L1186.6 1048.5 L1187.8 1047.6 L1189.0 1046.4 L1190.2 1047.5 L1191.4 1047.1 L1192.6 1046.3 L1193.8 1047.6 L1195.0 1047.8 L1196.2 1045.5 L1197.4 1049.0 L1198.6 1048.7 L1199.8 1048.6 L1201.0 1042.6 L1202.2 1047.5 L1203.4 1047.1 L1204.6 1045.6 L1205.8 1048.3 L1207.0 1044.7 L1208.2 1049.4 L1209.4 1048.0 L1210.6 1046.4 L1211.8 1049.8 L1213.0 1048.1 L1214.2 1047.9 L1215.4 1045.1 L1216.6 1048.2 L1217.8 1049.8 L1219.0 1049.2 L1220.2 1045.1 L1221.4 1049.7 L1222.6 1050.1 L1223.8 1048.8 L1225.0 1046.7 L1226.2 1044.8 L1227.4 1045.8 L1228.6 1046.4 L1229.8 1047.8 L1231.0 1048.3 L1232.2 1046.1 L1233.4 1044.6 L1234.6 1046.7 L1235.8 1045.1 L1237.0 1049.6 L1238.2 1045.2 L1239.4 1048.2 L1240.6 1048.8 L1241.8 1045.7 L1243.0 1049.1 L1244.2 1047.1 L1245.4 1046.0 L1246.6 1045.7 L1247.8 1047.5 L1249.0 1049.2 L1250.2 1044.1 L1251.4 1048.4 L1252.6 1047.1 L1253.8 1046.0 L1255.0 1047.1 L1256.2 1047.3 L1257.4 1047.2 L1258.6 1048.7 L1259.8 1045.7 L1261.0 1050.7 L1262.2 1048.8 L1263.4 1046.2 L1264.6 1043.9 L1265.8 1047.2 L1267.0 1046.5 L1268.2 1048.5 L1269.4 1048.4 L1270.6 1050.4 L1271.8 1046.9 L1273.0 1048.5 L1274.2 1046.4 L1275.4 1046.4 L1276.6 1049.7 L1277.8 1046.8 L1279.0 1046.8 L1280.2 1046.4 L1281.4 1047.5 L1282.6 1047.9 L1283.8 1046.7 L1285.0 1044.9 L1286.2 1047.4 L1287.4 1045.4 L1288.6 1046.1 L1289.8 1047.1 L1291.0 1047.1 L1292.2 1042.6 L1293.4 1049.5 L1294.6 1047.9 L1295.8 1049.8 L1297.0 1050.8 L1298.2 1044.8 L1299.4 1045.4 L1300.6 1046.7 L1301.8 1047.8 L1303.0 1045.3 L1304.2 1045.6 L1305.4 1047.9 L1306.6 1044.5 L1307.8 1046.3 L1309.0 1047.7 L1310.2 1045.4 L1311.4 1047.1 L1312.6 1045.5 L1313.8 1042.9 L1315.0 1044.6 L1316.2 1045.1 L1317.4 1044.8 L1318.6 1045.4 L1319.8 1045.9 L1321.0 1045.7 L1322.2 1045.4 L1323.4 1044.3 L1324.6 1044.6 L1325.8 1044.3 L1327.0 1043.8 L1328.2 1047.1 L1329.4 1041.4 L1330.6 1045.0 L1331.8 1041.7 L1333.0 1043.4 L1334.2 1045.8 L1335.4 1043.8 L1336.6 1046.6 L1337.8 1042.5 L1339.0 1043.6 L1340.2 1042.9 L1341.4 1043.9 L1342.6 1043.3 L1343.8 1043.1 L1345.0 1043.8 L1346.2 1045.5 L1347.4 1043.8 L1348.6 1043.5 L1349.8 1042.8 L1351.0 1042.1 L1352.2 1030.7 L1353.4 1041.3 L1354.6 1043.1 L1355.8 1039.7 L1357.0 1044.0 L1358.2 1042.0 L1359.4 1041.1 L1360.6 1041.6 L1361.8 1043.5 L1363.0 1042.9 L1364.2 1042.6 L1365.4 1045.1 L1366.6 1045.9 L1367.8 1039.6 L1369.0 1043.2 L1370.2 1040.2 L1371.4 1039.1 L1372.6 1040.4 L1373.8 1042.9 L1375.0 1040.5 L1376.2 1040.1 L1377.4 1043.1 L1378.6 1041.5 L1379.8 1040.3 L1381.0 1043.4 L1382.2 1041.0 L1383.4 1038.8 L1384.6 1038.1 L1385.8 1039.1 L1387.0 1040.0 L1388.2 1041.2 L1389.4 1041.0 L1390.6 1039.6 L1391.8 1037.3 L1393.0 1040.8 L1394.2 1029.3 L1395.4 1037.2 L1396.6 1036.9 L1397.8 1039.4 L1399.0 1039.6 L1400.2 1040.4 L1401.4 1037.0 L1402.6 1042.7 L1403.8 1036.8 L1405.0 1040.3 L1406.2 1043.2 L1407.4 1043.2 L1408.6 1040.2 L1409.8 1043.1 L1411.0 1044.2 L1412.2 1043.3 L1413.4 1040.3 L1414.6 1044.8 L1415.8 1039.1 L1417.0 1041.9 L1418.2 1039.9 L1419.4 1040.9 L1420.6 1040.9 L1421.8 1042.2 L1423.0 1039.0 L1424.2 1041.4 L1425.4 1043.1 L1426.6 1040.9 L1427.8 1041.5 L1429.0 1041.1 L1430.2 1038.9 L1431.4 1039.3 L1432.6 1039.8 L1433.8 1040.3 L1435.0 1042.8 L1436.2 1041.9 L1437.4 1038.0 L1438.6 1037.8 L1439.8 1036.6 L1441.0 1034.1 L1442.2 1040.1 L1443.4 1038.5 L1444.6 1033.9 L1445.8 1036.9 L1447.0 1040.6 L1448.2 1037.0 L1449.4 1036.6 L1450.6 1035.6 L1451.8 1033.4 L1453.0 1032.2 L1454.2 1032.2 L1455.4 1033.3 L1456.6 1032.0 L1457.8 1032.9 L1459.0 1034.0 L1460.2 1031.3 L1461.4 1030.9 L1462.6 1028.1 L1463.8 1025.6 L1465.0 1030.4 L1466.2 1026.5 L1467.4 1025.8 L1468.6 1021.5 L1469.8 1017.5 L1471.0 1021.1 L1472.2 1013.6 L1473.4 1015.7 L1474.6 1013.8 L1475.8 1013.8 L1477.0 1013.6 L1478.2 1012.4 L1479.4 1006.2 L1480.6 1010.5 L1481.8 1004.5 L1483.0 1008.1 L1484.2 1005.5 L1485.4 1003.6 L1486.6 1004.0 L1487.8 1001.9 L1489.0 1003.6 L1490.2 1004.7 L1491.4 1004.0 L1492.6 1002.4 L1493.8 1004.1 L1495.0 1003.0 L1496.2 1006.0 L1497.4 1003.4 L1498.6 1001.9 L1499.8 1002.9 L1501.0 1002.6 L1502.2 1004.0 L1503.4 1004.9 L1504.6 1007.1 L1505.8 1008.0 L1507.0 1007.5 L1508.2 1009.0 L1509.4 1008.3 L1510.6 1010.0 L1511.8 1008.4 L1513.0 1013.0 L1514.2 1015.1 L1515.4 1022.0 L1516.6 1016.6 L1517.8 1020.2 L1519.0 1020.6 L1520.2 1019.4 L1521.4 1023.6 L1522.6 1024.1 L1523.8 1022.4 L1525.0 1021.7 L1526.2 1026.4 L1527.4 1024.7 L1528.6 1028.9 L1529.8 1027.8 L1531.0 1029.7 L1532.2 1028.6 L1533.4 1032.3 L1534.6 1031.2 L1535.8 1033.1 L1537.0 1031.1 L1538.2 1029.5 L1539.4 1029.2 L1540.6 1031.1 L1541.8 1032.8 L1543.0 1031.6 L1544.2 1037.2 L1545.4 1033.2 L1546.6 1034.3 L1547.8 1033.9 L1549.0 1031.8 L1550.2 1036.1 L1551.4 1035.5 L1552.6 1036.0 L1553.8 1033.0 L1555.0 1034.8 L1556.2 1034.7 L1557.4 1036.9 L1558.6 1032.4 L1559.8 1036.0 L1561.0 1037.0 L1562.2 1034.0 L1563.4 1033.3 L1564.6 1036.9 L1565.8 1034.9 L1567.0 1036.4 L1568.2 1035.6 L1569.4 1036.0 L1570.6 1023.7 L1571.8 1030.2 L1573.0 1034.8 L1574.2 1032.4 L1575.4 1034.5 L1576.6 1032.4 L1577.8 1036.0 L1579.0 1032.5 L1580.2 1034.2 L1581.4 1034.5 L1582.6 1032.3 L1583.8 1032.8 L1585.0 1032.0 L1586.2 1030.3 L1587.4 1034.3 L1588.6 1029.9 L1589.8 1028.6 L1591.0 1030.3 L1592.2 1031.2 L1593.4 1030.9 L1594.6 1030.1 L1595.8 1029.7 L1597.0 1026.7 L1598.2 1031.3 L1599.4 1033.2 L1600.6 1028.7 L1601.8 1026.8 L1603.0 1031.1 L1604.2 1029.4 L1605.4 1022.7 L1606.6 1028.3 L1607.8 1027.0 L1609.0 1027.5 L1610.2 1033.0 L1611.4 1031.3 L1612.6 1029.3 L1613.8 1029.6 L1615.0 1032.4 L1616.2 1027.8 L1617.4 1031.0 L1618.6 1028.7 L1619.8 1031.3 L1621.0 1030.3 L1622.2 1028.7 L1623.4 1032.0 L1624.6 1031.1 L1625.8 1033.5 L1627.0 1029.6 L1628.2 1030.7 L1629.4 1029.3 L1630.6 1032.8 L1631.8 1029.4 L1633.0 1030.9 L1634.2 1033.4 L1635.4 1032.3 L1636.6 1032.1 L1637.8 1032.3 L1639.0 1032.8 L1640.2 1033.7 L1641.4 1032.3 L1642.6 1029.8 L1643.8 1036.0 L1645.0 1032.2 L1646.2 1037.7 L1647.4 1035.4 L1648.6 1040.9 L1649.8 1037.9" fill="none" stroke="#008c14" stroke-width="2.0" stroke-linejoin="round"/>
<path d="M283.0 1119.6 L284.2 1118.9 L285.4 1120.8 L286.6 1122.1 L287.8 1123.4 L289.0 1121.8 L290.2 1120.8 L291.4 1120.5 L292.6 1123.2 L293.8 1124.9 L295.0 1122.7 L296.2 1120.2 L297.4 1120.8 L298.6 1125.3 L299.8 1123.0 L301.0 1119.9 L302.2 1122.8 L303.4 1121.1 L304.6 1122.1 L305.8 1122.5 L307.0 1122.2 L308.2 1124.5 L309.4 1123.6 L310.6 1122.8 L311.8 1124.6 L313.0 1125.4 L314.2 1121.4 L315.4 1123.8 L316.6 1122.7 L317.8 1124.2 L319.0 1122.4 L320.2 1124.8 L321.4 1124.8 L322.6 1124.5 L323.8 1123.3 L325.0 1124.6 L326.2 1123.5 L327.4 1123.2 L328.6 1126.0 L329.8 1123.8 L331.0 1127.8 L332.2 1127.2 L333.4 1122.7 L334.6 1126.7 L335.8 1124.5 L337.0 1126.5 L338.2 1126.7 L339.4 1123.4 L340.6 1126.5 L341.8 1126.6 L343.0 1128.8 L344.2 1125.3 L345.4 1128.8 L346.6 1125.8 L347.8 1127.3 L349.0 1126.5 L350.2 1130.6 L351.4 1129.3 L352.6 1132.6 L353.8 1129.7 L355.0 1130.2 L356.2 1130.4 L357.4 1128.1 L358.6 1129.1 L359.8 1131.7 L361.0 1128.9 L362.2 1130.1 L363.4 1129.9 L364.6 1131.1 L365.8 1129.6 L367.0 1130.1 L368.2 1130.9 L369.4 1130.8 L370.6 1129.3 L371.8 1132.5 L373.0 1128.9 L374.2 1129.2 L375.4 1129.2 L376.6 1133.1 L377.8 1131.0 L379.0 1130.1 L380.2 1129.9 L381.4 1132.7 L382.6 1130.3 L383.8 1130.0 L385.0 1133.3 L386.2 1130.4 L387.4 1131.9 L388.6 1132.5 L389.8 1131.9 L391.0 1132.6 L392.2 1135.0 L393.4 1131.9 L394.6 1130.7 L395.8 1129.8 L397.0 1132.6 L398.2 1132.4 L399.4 1133.4 L400.6 1132.2 L401.8 1132.2 L403.0 1131.8 L404.2 1132.1 L405.4 1133.3 L406.6 1132.3 L407.8 1133.1 L409.0 1136.2 L410.2 1133.7 L411.4 1130.2 L412.6 1135.8 L413.8 1133.4 L415.0 1131.2 L416.2 1134.3 L417.4 1132.7 L418.6 1131.6 L419.8 1131.5 L421.0 1130.8 L422.2 1132.6 L423.4 1134.2 L424.6 1131.8 L425.8 1133.0 L427.0 1135.4 L428.2 1116.1 L429.4 1132.5 L430.6 1131.5 L431.8 1130.2 L433.0 1130.2 L434.2 1131.8 L435.4 1132.5 L436.6 1130.8 L437.8 1131.7 L439.0 1132.8 L440.2 1132.0 L441.4 1132.9 L442.6 1132.1 L443.8 1132.1 L445.0 1134.3 L446.2 1132.2 L447.4 1131.2 L448.6 1132.1 L449.8 1129.2 L451.0 1130.0 L452.2 1131.8 L453.4 1131.3 L454.6 1132.7 L455.8 1129.8 L457.0 1126.8 L458.2 1132.0 L459.4 1129.8 L460.6 1125.2 L461.8 1128.5 L463.0 1125.0 L464.2 1120.3 L465.4 1121.3 L466.6 1120.6 L467.8 1124.4 L469.0 1120.9 L470.2 1122.5 L471.4 1123.2 L472.6 1123.7 L473.8 1123.6 L475.0 1126.4 L476.2 1128.7 L477.4 1128.7 L478.6 1126.7 L479.8 1126.5 L481.0 1128.6 L482.2 1126.8 L483.4 1126.4 L484.6 1123.9 L485.8 1129.4 L487.0 1126.8 L488.2 1122.3 L489.4 1124.3 L490.6 1124.3 L491.8 1118.1 L493.0 1122.0 L494.2 1123.5 L495.4 1126.5 L496.6 1126.5 L497.8 1127.3 L499.0 1128.6 L500.2 1132.9 L501.4 1134.5 L502.6 1130.8 L503.8 1130.9 L505.0 1137.6 L506.2 1131.7 L507.4 1132.8 L508.6 1134.1 L509.8 1135.2 L511.0 1136.4 L512.2 1135.5 L513.4 1133.6 L514.6 1136.1 L515.8 1135.9 L517.0 1138.8 L518.2 1135.8 L519.4 1133.7 L520.6 1134.3 L521.8 1138.7 L523.0 1135.4 L524.2 1132.9 L525.4 1135.6 L526.6 1136.8 L527.8 1138.9 L529.0 1135.3 L530.2 1138.3 L531.4 1138.6 L532.6 1136.2 L533.8 1137.2 L535.0 1140.7 L536.2 1140.7 L537.4 1139.3 L538.6 1138.6 L539.8 1140.0 L541.0 1138.0 L542.2 1138.2 L543.4 1137.0 L544.6 1138.5 L545.8 1138.5 L547.0 1143.5 L548.2 1138.5 L549.4 1141.1 L550.6 1141.3 L551.8 1138.8 L553.0 1141.2 L554.2 1135.5 L555.4 1139.5 L556.6 1140.8 L557.8 1135.4 L559.0 1137.5 L560.2 1141.4 L561.4 1139.2 L562.6 1137.8 L563.8 1139.1 L565.0 1138.8 L566.2 1141.0 L567.4 1140.6 L568.6 1139.4 L569.8 1138.7 L571.0 1139.8 L572.2 1142.1 L573.4 1140.5 L574.6 1141.0 L575.8 1139.6 L577.0 1137.7 L578.2 1138.7 L579.4 1141.0 L580.6 1140.1 L581.8 1138.4 L583.0 1137.1 L584.2 1140.1 L585.4 1139.3 L586.6 1139.3 L587.8 1139.3 L589.0 1140.4 L590.2 1140.4 L591.4 1141.5 L592.6 1141.5 L593.8 1142.1 L595.0 1141.3 L596.2 1139.3 L597.4 1139.8 L598.6 1140.7 L599.8 1139.3 L601.0 1140.8 L602.2 1141.8 L603.4 1138.5 L604.6 1136.9 L605.8 1141.9 L607.0 1139.9 L608.2 1141.1 L609.4 1137.6 L610.6 1142.8 L611.8 1141.1 L613.0 1139.6 L614.2 1139.2 L615.4 1140.0 L616.6 1139.5 L617.8 1139.3 L619.0 1137.9 L620.2 1142.0 L621.4 1139.7 L622.6 1139.9 L623.8 1140.0 L625.0 1135.8 L626.2 1140.7 L627.4 1139.2 L628.6 1139.3 L629.8 1139.9 L631.0 1138.1 L632.2 1141.2 L633.4 1138.6 L634.6 1138.2 L635.8 1138.3 L637.0 1140.0 L638.2 1141.0 L639.4 1138.7 L640.6 1137.1 L641.8 1141.5 L643.0 1137.8 L644.2 1141.7 L645.4 1139.5 L646.6 1138.4 L647.8 1138.4 L649.0 1140.2 L650.2 1140.9 L651.4 1139.0 L652.6 1128.8 L653.8 1142.7 L655.0 1138.7 L656.2 1137.1 L657.4 1137.1 L658.6 1136.5 L659.8 1137.7 L661.0 1137.4 L662.2 1136.3 L663.4 1139.4 L664.6 1133.9 L665.8 1136.0 L667.0 1141.5 L668.2 1139.7 L669.4 1138.7 L670.6 1138.4 L671.8 1140.5 L673.0 1138.2 L674.2 1137.3 L675.4 1134.9 L676.6 1136.7 L677.8 1135.4 L679.0 1135.3 L680.2 1135.1 L681.4 1136.0 L682.6 1135.4 L683.8 1137.2 L685.0 1133.3 L686.2 1135.0 L687.4 1138.2 L688.6 1134.9 L689.8 1136.7 L691.0 1136.3 L692.2 1136.4 L693.4 1135.2 L694.6 1131.4 L695.8 1133.0 L697.0 1132.6 L698.2 1130.4 L699.4 1132.1 L700.6 1130.6 L701.8 1129.7 L703.0 1132.7 L704.2 1132.2 L705.4 1130.9 L706.6 1130.3 L707.8 1130.9 L709.0 1131.0 L710.2 1130.9 L711.4 1131.4 L712.6 1130.6 L713.8 1131.9 L715.0 1132.0 L716.2 1131.6 L717.4 1129.8 L718.6 1129.7 L719.8 1131.4 L721.0 1130.2 L722.2 1130.4 L723.4 1126.1 L724.6 1125.7 L725.8 1130.7 L727.0 1130.6 L728.2 1132.4 L729.4 1131.1 L730.6 1130.2 L731.8 1129.8 L733.0 1127.3 L734.2 1131.1 L735.4 1128.5 L736.6 1130.3 L737.8 1129.7 L739.0 1129.7 L740.2 1130.7 L741.4 1128.2 L742.6 1128.2 L743.8 1127.3 L745.0 1128.0 L746.2 1131.3 L747.4 1127.6 L748.6 1130.1 L749.8 1129.2 L751.0 1128.8 L752.2 1128.7 L753.4 1125.3 L754.6 1127.4 L755.8 1129.2 L757.0 1125.0 L758.2 1125.8 L759.4 1124.4 L760.6 1125.8 L761.8 1123.1 L763.0 1127.3 L764.2 1123.6 L765.4 1121.2 L766.6 1126.5 L767.8 1124.7 L769.0 1123.5 L770.2 1123.1 L771.4 1121.1 L772.6 1120.9 L773.8 1122.0 L775.0 1121.8 L776.2 1121.3 L777.4 1119.5 L778.6 1117.8 L779.8 1117.7 L781.0 1119.3 L782.2 1119.2 L783.4 1115.5 L784.6 1114.5 L785.8 1116.7 L787.0 1114.9 L788.2 1114.0 L789.4 1109.6 L790.6 1110.1 L791.8 1108.5 L793.0 1108.1 L794.2 1103.2 L795.4 1106.4 L796.6 1103.0 L797.8 1101.5 L799.0 1097.3 L800.2 1097.9 L801.4 1099.0 L802.6 1092.6 L803.8 1093.9 L805.0 1091.1 L806.2 1083.2 L807.4 1080.2 L808.6 1074.7 L809.8 1075.2 L811.0 1072.4 L812.2 1070.2 L813.4 1070.9 L814.6 1064.5 L815.8 1058.0 L817.0 1046.8 L818.2 1041.4 L819.4 1037.8 L820.6 1031.9 L821.8 1024.4 L823.0 1020.2 L824.2 1011.3 L825.4 1007.3 L826.6 999.2 L827.8 997.0 L829.0 991.5 L830.2 987.5 L831.4 986.3 L832.6 989.6 L833.8 988.6 L835.0 995.1 L836.2 1003.8 L837.4 1006.7 L838.6 1016.3 L839.8 1020.0 L841.0 1026.8 L842.2 1035.7 L843.4 1046.6 L844.6 1052.1 L845.8 1058.0 L847.0 1063.0 L848.2 1064.6 L849.4 1069.4 L850.6 1076.4 L851.8 1077.9 L853.0 1079.8 L854.2 1082.5 L855.4 1083.1 L856.6 1087.2 L857.8 1087.8 L859.0 1092.5 L860.2 1092.8 L861.4 1095.5 L862.6 1098.2 L863.8 1098.4 L865.0 1101.4 L866.2 1102.3 L867.4 1103.2 L868.6 1105.9 L869.8 1102.1 L871.0 1102.8 L872.2 1107.5 L873.4 1108.8 L874.6 1111.4 L875.8 1110.0 L877.0 1110.8 L878.2 1108.5 L879.4 1111.9 L880.6 1112.3 L881.8 1109.8 L883.0 1110.6 L884.2 1112.5 L885.4 1113.6 L886.6 1108.6 L887.8 1114.2 L889.0 1114.8 L890.2 1114.3 L891.4 1115.2 L892.6 1115.6 L893.8 1113.0 L895.0 1115.2 L896.2 1113.7 L897.4 1112.2 L898.6 1113.8 L899.8 1115.5 L901.0 1110.1 L902.2 1109.4 L903.4 1109.0 L904.6 1114.9 L905.8 1110.9 L907.0 1111.1 L908.2 1109.8 L909.4 1109.5 L910.6 1107.6 L911.8 1111.3 L913.0 1111.5 L914.2 1107.6 L915.4 1109.2 L916.6 1109.6 L917.8 1110.8 L919.0 1111.1 L920.2 1112.5 L921.4 1111.5 L922.6 1108.1 L923.8 1105.3 L925.0 1098.7 L926.2 1097.9 L927.4 1099.2 L928.6 1096.0 L929.8 1093.4 L931.0 1087.2 L932.2 1083.6 L933.4 1083.7 L934.6 1078.3 L935.8 1071.5 L937.0 1064.8 L938.2 1056.4 L939.4 1054.6 L940.6 1050.6 L941.8 1046.9 L943.0 1040.4 L944.2 1036.3 L945.4 1031.3 L946.6 1032.2 L947.8 1030.9 L949.0 1026.2 L950.2 1028.4 L951.4 1030.0 L952.6 1031.5 L953.8 1031.1 L955.0 1038.4 L956.2 1044.9 L957.4 1045.7 L958.6 1049.2 L959.8 1046.4 L961.0 1055.1 L962.2 1054.4 L963.4 1054.5 L964.6 1055.2 L965.8 1056.6 L967.0 1064.8 L968.2 1080.4 L969.4 1086.7 L970.6 1091.4 L971.8 1095.2 L973.0 1101.0 L974.2 1099.9 L975.4 1107.0 L976.6 1109.6 L977.8 1112.2 L979.0 1112.9 L980.2 1120.0 L981.4 1119.1 L982.6 1121.1 L983.8 1124.7 L985.0 1123.4 L986.2 1126.5 L987.4 1127.7 L988.6 1130.5 L989.8 1132.4 L991.0 1130.9 L992.2 1135.6 L993.4 1135.3 L994.6 1136.8 L995.8 1136.7 L997.0 1138.5 L998.2 1135.4 L999.4 1138.1 L1000.6 1139.8 L1001.8 1137.5 L1003.0 1141.6 L1004.2 1137.1 L1005.4 1138.9 L1006.6 1137.9 L1007.8 1137.8 L1009.0 1137.1 L1010.2 1138.3 L1011.4 1139.3 L1012.6 1138.1 L1013.8 1141.1 L1015.0 1142.4 L1016.2 1137.3 L1017.4 1141.5 L1018.6 1140.5 L1019.8 1140.8 L1021.0 1144.7 L1022.2 1142.6 L1023.4 1141.3 L1024.6 1141.1 L1025.8 1137.3 L1027.0 1142.4 L1028.2 1139.9 L1029.4 1141.6 L1030.6 1141.6 L1031.8 1143.1 L1033.0 1145.1 L1034.2 1143.4 L1035.4 1144.0 L1036.6 1141.5 L1037.8 1142.8 L1039.0 1143.4 L1040.2 1139.7 L1041.4 1145.7 L1042.6 1141.1 L1043.8 1140.2 L1045.0 1145.2 L1046.2 1146.1 L1047.4 1141.4 L1048.6 1141.6 L1049.8 1148.0 L1051.0 1143.0 L1052.2 1139.5 L1053.4 1141.9 L1054.6 1146.4 L1055.8 1144.1 L1057.0 1144.3 L1058.2 1145.2 L1059.4 1144.3 L1060.6 1142.6 L1061.8 1140.5 L1063.0 1144.1 L1064.2 1141.4 L1065.4 1143.3 L1066.6 1146.4 L1067.8 1144.4 L1069.0 1143.6 L1070.2 1143.6 L1071.4 1144.8 L1072.6 1145.1 L1073.8 1141.4 L1075.0 1144.0 L1076.2 1146.6 L1077.4 1145.0 L1078.6 1142.4 L1079.8 1142.6 L1081.0 1140.3 L1082.2 1142.4 L1083.4 1146.5 L1084.6 1143.7 L1085.8 1142.4 L1087.0 1142.9 L1088.2 1143.7 L1089.4 1143.7 L1090.6 1143.3 L1091.8 1142.6 L1093.0 1145.0 L1094.2 1146.6 L1095.4 1143.0 L1096.6 1143.0 L1097.8 1146.0 L1099.0 1141.5 L1100.2 1143.0 L1101.4 1143.4 L1102.6 1144.3 L1103.8 1143.6 L1105.0 1142.5 L1106.2 1144.6 L1107.4 1142.0 L1108.6 1141.1 L1109.8 1140.6 L1111.0 1145.4 L1112.2 1141.2 L1113.4 1144.9 L1114.6 1145.3 L1115.8 1145.5 L1117.0 1143.8 L1118.2 1143.2 L1119.4 1144.3 L1120.6 1143.2 L1121.8 1142.0 L1123.0 1146.3 L1124.2 1142.7 L1125.4 1147.3 L1126.6 1145.1 L1127.8 1143.5 L1129.0 1145.0 L1130.2 1146.3 L1131.4 1129.9 L1132.6 1142.7 L1133.8 1142.5 L1135.0 1144.6 L1136.2 1145.0 L1137.4 1144.3 L1138.6 1143.1 L1139.8 1143.4 L1141.0 1146.3 L1142.2 1146.2 L1143.4 1144.6 L1144.6 1142.1 L1145.8 1145.4 L1147.0 1144.9 L1148.2 1144.8 L1149.4 1147.3 L1150.6 1145.8 L1151.8 1142.7 L1153.0 1142.8 L1154.2 1146.8 L1155.4 1144.8 L1156.6 1145.9 L1157.8 1144.2 L1159.0 1142.8 L1160.2 1145.0 L1161.4 1147.2 L1162.6 1145.1 L1163.8 1142.6 L1165.0 1144.0 L1166.2 1143.7 L1167.4 1144.9 L1168.6 1146.4 L1169.8 1138.0 L1171.0 1145.0 L1172.2 1143.9 L1173.4 1144.8 L1174.6 1144.7 L1175.8 1144.0 L1177.0 1144.7 L1178.2 1144.7 L1179.4 1142.7 L1180.6 1145.6 L1181.8 1144.1 L1183.0 1143.0 L1184.2 1145.6 L1185.4 1143.9 L1186.6 1147.7 L1187.8 1145.5 L1189.0 1144.9 L1190.2 1143.4 L1191.4 1144.0 L1192.6 1146.2 L1193.8 1143.6 L1195.0 1146.0 L1196.2 1141.2 L1197.4 1145.1 L1198.6 1146.1 L1199.8 1145.3 L1201.0 1144.7 L1202.2 1146.5 L1203.4 1143.3 L1204.6 1143.1 L1205.8 1144.9 L1207.0 1146.8 L1208.2 1145.5 L1209.4 1144.4 L1210.6 1145.3 L1211.8 1145.5 L1213.0 1142.7 L1214.2 1140.0 L1215.4 1143.0 L1216.6 1142.2 L1217.8 1143.8 L1219.0 1142.7 L1220.2 1143.3 L1221.4 1145.5 L1222.6 1145.0 L1223.8 1144.8 L1225.0 1147.6 L1226.2 1144.0 L1227.4 1144.2 L1228.6 1147.0 L1229.8 1142.9 L1231.0 1142.1 L1232.2 1147.1 L1233.4 1145.4 L1234.6 1145.9 L1235.8 1145.9 L1237.0 1146.4 L1238.2 1144.1 L1239.4 1144.7 L1240.6 1143.0 L1241.8 1145.1 L1243.0 1145.3 L1244.2 1144.1 L1245.4 1146.0 L1246.6 1149.9 L1247.8 1142.9 L1249.0 1146.3 L1250.2 1146.5 L1251.4 1146.7 L1252.6 1143.5 L1253.8 1146.9 L1255.0 1146.0 L1256.2 1144.7 L1257.4 1144.3 L1258.6 1145.3 L1259.8 1146.5 L1261.0 1146.4 L1262.2 1148.8 L1263.4 1144.3 L1264.6 1146.0 L1265.8 1144.2 L1267.0 1146.2 L1268.2 1145.1 L1269.4 1143.9 L1270.6 1142.6 L1271.8 1143.6 L1273.0 1145.3 L1274.2 1147.4 L1275.4 1146.2 L1276.6 1142.8 L1277.8 1144.0 L1279.0 1144.8 L1280.2 1144.5 L1281.4 1144.8 L1282.6 1146.0 L1283.8 1145.0 L1285.0 1143.4 L1286.2 1141.3 L1287.4 1144.0 L1288.6 1141.7 L1289.8 1144.2 L1291.0 1145.0 L1292.2 1142.1 L1293.4 1144.1 L1294.6 1143.7 L1295.8 1147.5 L1297.0 1145.0 L1298.2 1141.0 L1299.4 1144.9 L1300.6 1144.8 L1301.8 1143.7 L1303.0 1143.4 L1304.2 1145.0 L1305.4 1145.1 L1306.6 1144.7 L1307.8 1142.2 L1309.0 1143.4 L1310.2 1141.2 L1311.4 1141.2 L1312.6 1142.8 L1313.8 1141.9 L1315.0 1143.0 L1316.2 1147.8 L1317.4 1144.4 L1318.6 1142.0 L1319.8 1139.8 L1321.0 1142.0 L1322.2 1141.0 L1323.4 1139.6 L1324.6 1144.5 L1325.8 1142.4 L1327.0 1144.0 L1328.2 1148.4 L1329.4 1143.6 L1330.6 1143.3 L1331.8 1143.6 L1333.0 1142.6 L1334.2 1141.6 L1335.4 1142.6 L1336.6 1144.8 L1337.8 1142.4 L1339.0 1140.5 L1340.2 1140.6 L1341.4 1141.0 L1342.6 1142.7 L1343.8 1143.4 L1345.0 1143.4 L1346.2 1144.6 L1347.4 1142.1 L1348.6 1143.9 L1349.8 1143.0 L1351.0 1143.6 L1352.2 1129.2 L1353.4 1144.4 L1354.6 1139.6 L1355.8 1140.3 L1357.0 1143.5 L1358.2 1141.4 L1359.4 1145.0 L1360.6 1142.1 L1361.8 1140.0 L1363.0 1141.8 L1364.2 1140.7 L1365.4 1143.9 L1366.6 1143.8 L1367.8 1142.1 L1369.0 1139.9 L1370.2 1140.5 L1371.4 1141.9 L1372.6 1138.5 L1373.8 1138.2 L1375.0 1140.8 L1376.2 1140.3 L1377.4 1138.4 L1378.6 1138.1 L1379.8 1135.0 L1381.0 1140.1 L1382.2 1137.6 L1383.4 1135.1 L1384.6 1135.4 L1385.8 1135.6 L1387.0 1139.8 L1388.2 1137.8 L1389.4 1134.2 L1390.6 1139.5 L1391.8 1138.4 L1393.0 1134.2 L1394.2 1121.4 L1395.4 1137.4 L1396.6 1134.7 L1397.8 1135.4 L1399.0 1134.7 L1400.2 1137.7 L1401.4 1138.3 L1402.6 1137.6 L1403.8 1136.6 L1405.0 1138.0 L1406.2 1139.3 L1407.4 1136.2 L1408.6 1141.6 L1409.8 1139.2 L1411.0 1140.2 L1412.2 1140.0 L1413.4 1141.3 L1414.6 1141.5 L1415.8 1143.4 L1417.0 1139.0 L1418.2 1137.9 L1419.4 1139.6 L1420.6 1138.1 L1421.8 1140.6 L1423.0 1137.6 L1424.2 1139.1 L1425.4 1140.3 L1426.6 1140.2 L1427.8 1138.7 L1429.0 1140.5 L1430.2 1140.1 L1431.4 1134.8 L1432.6 1138.1 L1433.8 1137.6 L1435.0 1136.5 L1436.2 1135.7 L1437.4 1136.7 L1438.6 1137.0 L1439.8 1136.6 L1441.0 1138.2 L1442.2 1137.3 L1443.4 1134.4 L1444.6 1133.8 L1445.8 1136.2 L1447.0 1133.2 L1448.2 1134.3 L1449.4 1134.5 L1450.6 1135.0 L1451.8 1133.6 L1453.0 1134.8 L1454.2 1131.0 L1455.4 1132.4 L1456.6 1129.6 L1457.8 1130.4 L1459.0 1129.7 L1460.2 1127.3 L1461.4 1123.8 L1462.6 1129.1 L1463.8 1127.4 L1465.0 1126.0 L1466.2 1123.4 L1467.4 1122.8 L1468.6 1122.8 L1469.8 1120.7 L1471.0 1121.3 L1472.2 1118.2 L1473.4 1115.5 L1474.6 1116.8 L1475.8 1113.6 L1477.0 1114.0 L1478.2 1109.5 L1479.4 1111.0 L1480.6 1111.6 L1481.8 1108.6 L1483.0 1108.9 L1484.2 1109.2 L1485.4 1107.7 L1486.6 1109.9 L1487.8 1105.8 L1489.0 1105.3 L1490.2 1104.8 L1491.4 1101.2 L1492.6 1101.7 L1493.8 1105.0 L1495.0 1103.5 L1496.2 1106.6 L1497.4 1104.4 L1498.6 1104.7 L1499.8 1107.4 L1501.0 1106.8 L1502.2 1109.8 L1503.4 1106.1 L1504.6 1109.4 L1505.8 1110.7 L1507.0 1111.3 L1508.2 1113.2 L1509.4 1114.1 L1510.6 1113.7 L1511.8 1114.0 L1513.0 1118.0 L1514.2 1117.7 L1515.4 1120.6 L1516.6 1122.4 L1517.8 1121.5 L1519.0 1120.6 L1520.2 1122.7 L1521.4 1125.5 L1522.6 1124.7 L1523.8 1128.0 L1525.0 1126.9 L1526.2 1127.9 L1527.4 1127.3 L1528.6 1128.7 L1529.8 1131.2 L1531.0 1129.1 L1532.2 1129.4 L1533.4 1129.0 L1534.6 1131.9 L1535.8 1128.3 L1537.0 1130.0 L1538.2 1132.9 L1539.4 1134.0 L1540.6 1131.5 L1541.8 1133.7 L1543.0 1128.9 L1544.2 1133.8 L1545.4 1133.2 L1546.6 1130.8 L1547.8 1130.0 L1549.0 1132.3 L1550.2 1133.7 L1551.4 1134.0 L1552.6 1133.6 L1553.8 1134.8 L1555.0 1134.7 L1556.2 1131.2 L1557.4 1132.9 L1558.6 1132.7 L1559.8 1135.3 L1561.0 1132.7 L1562.2 1135.2 L1563.4 1133.6 L1564.6 1137.4 L1565.8 1133.2 L1567.0 1133.2 L1568.2 1132.9 L1569.4 1133.3 L1570.6 1127.0 L1571.8 1131.9 L1573.0 1131.2 L1574.2 1132.2 L1575.4 1133.5 L1576.6 1130.6 L1577.8 1133.5 L1579.0 1133.3 L1580.2 1131.5 L1581.4 1131.2 L1582.6 1130.1 L1583.8 1130.9 L1585.0 1129.8 L1586.2 1133.1 L1587.4 1133.6 L1588.6 1130.2 L1589.8 1130.4 L1591.0 1127.1 L1592.2 1129.3 L1593.4 1130.6 L1594.6 1130.3 L1595.8 1129.9 L1597.0 1131.0 L1598.2 1129.5 L1599.4 1128.6 L1600.6 1131.8 L1601.8 1125.7 L1603.0 1126.9 L1604.2 1127.5 L1605.4 1127.4 L1606.6 1127.2 L1607.8 1128.0 L1609.0 1127.1 L1610.2 1128.1 L1611.4 1129.1 L1612.6 1128.1 L1613.8 1128.2 L1615.0 1126.3 L1616.2 1125.9 L1617.4 1127.3 L1618.6 1129.2 L1619.8 1128.2 L1621.0 1129.4 L1622.2 1129.1 L1623.4 1129.3 L1624.6 1126.0 L1625.8 1129.4 L1627.0 1128.6 L1628.2 1130.8 L1629.4 1128.2 L1630.6 1127.8 L1631.8 1127.0 L1633.0 1127.6 L1634.2 1124.7 L1635.4 1127.3 L1636.6 1128.0 L1637.8 1130.1 L1639.0 1127.8 L1640.2 1129.6 L1641.4 1133.0 L1642.6 1129.5 L1643.8 1132.5 L1645.0 1130.8 L1646.2 1132.2 L1647.4 1133.8 L1648.6 1135.2 L1649.8 1133.6" fill="none" stroke="#0000b0" stroke-width="2.0" stroke-linejoin="round"/>
<path d="M241.5 1168.5 L242.7 1166.4 L243.9 1158.3 L245.1 1159.0 L246.3 1159.1 L247.5 1158.7 L248.7 1157.1 L249.9 1157.5 L251.1 1155.4 L252.3 1155.2 L253.5 1154.3 L254.7 1152.5 L255.9 1152.4 L257.1 1153.7 L258.3 1152.4 L259.5 1154.5 L260.7 1154.6 L261.9 1155.2 L263.1 1153.1 L264.3 1155.0 L265.5 1152.4 L266.7 1152.7 L267.9 1154.0 L269.1 1154.5 L270.3 1152.4 L271.5 1152.5 L272.7 1155.2 L273.9 1154.0 L275.1 1156.7 L276.3 1155.9 L277.5 1155.9 L278.7 1155.9 L279.9 1156.8 L281.1 1155.5 L282.3 1157.0 L283.5 1155.0 L284.7 1155.3 L285.9 1154.6 L287.1 1156.0 L288.3 1155.2 L289.5 1153.9 L290.7 1157.1 L291.9 1154.1 L293.1 1154.2 L294.3 1154.5 L295.5 1155.9 L296.7 1153.4 L297.9 1154.2 L299.1 1153.2 L300.3 1151.0 L301.5 1153.5 L302.7 1153.5 L303.9 1151.7 L305.1 1151.7 L306.3 1149.7 L307.5 1149.5 L308.7 1150.6 L309.9 1151.6 L311.1 1150.0 L312.3 1150.7 L313.5 1151.3 L314.7 1150.0 L315.9 1150.3 L317.1 1151.1 L318.3 1147.6 L319.5 1149.7 L320.7 1146.2 L321.9 1148.6 L323.1 1148.0 L324.3 1146.7 L325.5 1145.6 L326.7 1146.4 L327.9 1145.3 L329.1 1144.9 L330.3 1142.5 L331.5 1143.1 L332.7 1140.3 L333.9 1140.6 L335.1 1140.4 L336.3 1142.9 L337.5 1140.6 L338.7 1143.4 L339.9 1147.0 L341.1 1146.5 L342.3 1147.6 L343.5 1151.1 L344.7 1151.7 L345.9 1154.1 L347.1 1153.0 L348.3 1155.4 L349.5 1156.9 L350.7 1158.3 L351.9 1156.7 L353.1 1160.6 L354.3 1158.5 L355.5 1158.5 L356.7 1159.7 L357.9 1161.5 L359.1 1161.2 L360.3 1162.3 L361.5 1162.6 L362.7 1162.6 L363.9 1162.1 L365.1 1164.8 L366.3 1160.1 L367.5 1160.9 L368.7 1162.5 L369.9 1161.7 L371.1 1160.3 L372.3 1162.5 L373.5 1162.7 L374.7 1160.7 L375.9 1164.7 L377.1 1165.3 L378.3 1165.3 L379.5 1163.2 L380.7 1164.0 L381.9 1162.5 L383.1 1164.0 L384.3 1163.0 L385.5 1164.3 L386.7 1163.4 L387.9 1165.0 L389.1 1164.8 L390.3 1165.3 L391.5 1161.9 L392.7 1161.6 L393.9 1164.3 L395.1 1163.1 L396.3 1164.3 L397.5 1164.2 L398.7 1164.0 L399.9 1164.9 L401.1 1164.5 L402.3 1164.4 L403.5 1162.7 L404.7 1165.9 L405.9 1164.0 L407.1 1165.1 L408.3 1164.2 L409.5 1165.3 L410.7 1164.0 L411.9 1164.1 L413.1 1164.0 L414.3 1162.9 L415.5 1163.1 L416.7 1163.5 L417.9 1163.4 L419.1 1162.2 L420.3 1165.9 L421.5 1161.7 L422.7 1162.2 L423.9 1165.2 L425.1 1161.1 L426.3 1162.4 L427.5 1161.9 L428.7 1160.5 L429.9 1158.6 L431.1 1158.1 L432.3 1159.5 L433.5 1159.6 L434.7 1156.1 L435.9 1158.5 L437.1 1157.2 L438.3 1158.7 L439.5 1157.5 L440.7 1156.1 L441.9 1156.2 L443.1 1156.5 L444.3 1157.7 L445.5 1159.4 L446.7 1155.8 L447.9 1155.1 L449.1 1155.3 L450.3 1154.0 L451.5 1154.1 L452.7 1153.1 L453.9 1151.5 L455.1 1148.6 L456.3 1147.1 L457.5 1144.9 L458.7 1140.5 L459.9 1137.3 L461.1 1130.4 L462.3 1122.8 L463.5 1120.2 L464.7 1114.0 L465.9 1113.9 L467.1 1107.2 L468.3 1095.8 L469.5 1091.9 L470.7 1088.0 L471.9 1076.4 L473.1 1061.1 L474.3 1047.9 L475.5 1043.4 L476.7 1038.8 L477.9 1033.3 L479.1 1031.7 L480.3 1030.6 L481.5 1028.3 L482.7 1034.7 L483.9 1040.7 L485.1 1048.3 L486.3 1051.9 L487.5 1060.0 L488.7 1068.0 L489.9 1083.7 L491.1 1094.6 L492.3 1098.3 L493.5 1101.0 L494.7 1105.8 L495.9 1114.3 L497.1 1121.1 L498.3 1128.7 L499.5 1131.7 L500.7 1135.0 L501.9 1136.6 L503.1 1142.1 L504.3 1143.1 L505.5 1143.3 L506.7 1147.7 L507.9 1148.8 L509.1 1149.2 L510.3 1151.4 L511.5 1152.1 L512.7 1151.4 L513.9 1153.4 L515.1 1156.9 L516.3 1157.7 L517.5 1158.5 L518.7 1157.7 L519.9 1159.3 L521.1 1160.9 L522.3 1162.4 L523.5 1161.3 L524.7 1161.7 L525.9 1165.0 L527.1 1164.3 L528.3 1164.4 L529.5 1164.4 L530.7 1165.0 L531.9 1168.1 L533.1 1167.8 L534.3 1166.5 L535.5 1165.9 L536.7 1169.8 L537.9 1170.0 L539.1 1169.9 L540.3 1169.8 L541.5 1166.8 L542.7 1167.9 L543.9 1170.4 L545.1 1169.6 L546.3 1170.5 L547.5 1169.7 L548.7 1169.8 L549.9 1171.4 L551.1 1170.4 L552.3 1171.1 L553.5 1171.5 L554.7 1171.6 L555.9 1172.8 L557.1 1173.2 L558.3 1170.0 L559.5 1171.5 L560.7 1171.1 L561.9 1172.9 L563.1 1170.8 L564.3 1173.2 L565.5 1173.2 L566.7 1173.1 L567.9 1171.3 L569.1 1172.3 L570.3 1171.4 L571.5 1173.3 L572.7 1174.0 L573.9 1171.1 L575.1 1172.0 L576.3 1172.9 L577.5 1172.5 L578.7 1175.0 L579.9 1173.1 L581.1 1173.7 L582.3 1172.1 L583.5 1175.4 L584.7 1173.8 L585.9 1174.6 L587.1 1173.8 L588.3 1171.2 L589.5 1171.9 L590.7 1172.3 L591.9 1174.5 L593.1 1173.4 L594.3 1174.6 L595.5 1174.5 L596.7 1174.5 L597.9 1175.3 L599.1 1174.5 L600.3 1172.4 L601.5 1173.6 L602.7 1176.5 L603.9 1173.2 L605.1 1176.2 L606.3 1176.6 L607.5 1174.0 L608.7 1175.2 L609.9 1173.1 L611.1 1175.8 L612.3 1174.0 L613.5 1173.4 L614.7 1174.6 L615.9 1174.5 L617.1 1174.4 L618.3 1175.4 L619.5 1175.0 L620.7 1174.5 L621.9 1176.5 L623.1 1178.3 L624.3 1175.5 L625.5 1174.6 L626.7 1174.3 L627.9 1176.3 L629.1 1175.3 L630.3 1175.7 L631.5 1173.3 L632.7 1174.4 L633.9 1174.4 L635.1 1177.0 L636.3 1175.6 L637.5 1173.0 L638.7 1176.6 L639.9 1177.4 L641.1 1177.6 L642.3 1172.8 L643.5 1176.3 L644.7 1177.2 L645.9 1177.0 L647.1 1176.0 L648.3 1174.2 L649.5 1175.9 L650.7 1176.0 L651.9 1177.1 L653.1 1177.3 L654.3 1176.2 L655.5 1177.6 L656.7 1175.3 L657.9 1175.8 L659.1 1176.7 L660.3 1177.4 L661.5 1176.4 L662.7 1178.3 L663.9 1177.3 L665.1 1175.7 L666.3 1177.0 L667.5 1175.9 L668.7 1175.8 L669.9 1175.3 L671.1 1178.7 L672.3 1178.2 L673.5 1175.2 L674.7 1178.5 L675.9 1178.4 L677.1 1176.8 L678.3 1177.9 L679.5 1180.0 L680.7 1177.7 L681.9 1177.9 L683.1 1178.8 L684.3 1176.2 L685.5 1176.0 L686.7 1175.8 L687.9 1177.5 L689.1 1178.7 L690.3 1176.6 L691.5 1176.0 L692.7 1178.0 L693.9 1177.3 L695.1 1178.6 L696.3 1177.7 L697.5 1177.7 L698.7 1177.9 L699.9 1178.0 L701.1 1176.9 L702.3 1176.7 L703.5 1180.0 L704.7 1181.9 L705.9 1179.5 L707.1 1176.3 L708.3 1178.3 L709.5 1179.7 L710.7 1176.4 L711.9 1177.8 L713.1 1177.9 L714.3 1177.3 L715.5 1177.4 L716.7 1179.7 L717.9 1178.0 L719.1 1178.3 L720.3 1180.6 L721.5 1177.6 L722.7 1176.3 L723.9 1179.4 L725.1 1181.1 L726.3 1178.9 L727.5 1179.1 L728.7 1177.2 L729.9 1177.6 L731.1 1180.5 L732.3 1180.3 L733.5 1179.5 L734.7 1178.0 L735.9 1177.4 L737.1 1177.6 L738.3 1177.4 L739.5 1179.6 L740.7 1177.9 L741.9 1178.2 L743.1 1179.7 L744.3 1179.7 L745.5 1178.9 L746.7 1179.4 L747.9 1178.9 L749.1 1176.5 L750.3 1178.8 L751.5 1178.4 L752.7 1178.4 L753.9 1179.2 L755.1 1178.2 L756.3 1180.4 L757.5 1178.7 L758.7 1179.1 L759.9 1179.3 L761.1 1178.7 L762.3 1179.7 L763.5 1179.8 L764.7 1179.7 L765.9 1178.1 L767.1 1177.8 L768.3 1178.2 L769.5 1178.9 L770.7 1176.7 L771.9 1177.9 L773.1 1177.5 L774.3 1178.1 L775.5 1177.8 L776.7 1179.9 L777.9 1179.5 L779.1 1180.1 L780.3 1177.8 L781.5 1178.0 L782.7 1178.6 L783.9 1180.9 L785.1 1181.0 L786.3 1178.2 L787.5 1179.7 L788.7 1181.6 L789.9 1177.7 L791.1 1178.8 L792.3 1180.5 L793.5 1179.9 L794.7 1177.8 L795.9 1180.8 L797.1 1180.2 L798.3 1179.8 L799.5 1177.5 L800.7 1178.8 L801.9 1180.6 L803.1 1179.6 L804.3 1180.0 L805.5 1178.7 L806.7 1180.8 L807.9 1178.7 L809.1 1180.1 L810.3 1179.4 L811.5 1177.8 L812.7 1180.8 L813.9 1177.5 L815.1 1178.1 L816.3 1179.2 L817.5 1177.3 L818.7 1176.8 L819.9 1178.9 L821.1 1178.5 L822.3 1178.7 L823.5 1179.6 L824.7 1181.7 L825.9 1178.5 L827.1 1181.9 L828.3 1179.3 L829.5 1178.9 L830.7 1175.7 L831.9 1177.1 L833.1 1179.3 L834.3 1179.6 L835.5 1178.0 L836.7 1179.3 L837.9 1180.0 L839.1 1178.3 L840.3 1177.0 L841.5 1177.8 L842.7 1178.6 L843.9 1179.3 L845.1 1179.9 L846.3 1177.8 L847.5 1179.0 L848.7 1178.6 L849.9 1179.0 L851.1 1180.3 L852.3 1180.5 L853.5 1178.4 L854.7 1178.2 L855.9 1178.1 L857.1 1178.3 L858.3 1178.5 L859.5 1178.8 L860.7 1178.4 L861.9 1177.7 L863.1 1177.6 L864.3 1179.0 L865.5 1181.9 L866.7 1179.6 L867.9 1179.7 L869.1 1179.4 L870.3 1178.8 L871.5 1181.4 L872.7 1178.6 L873.9 1177.8 L875.1 1177.5 L876.3 1179.2 L877.5 1177.8 L878.7 1177.9 L879.9 1177.9 L881.1 1177.4 L882.3 1179.2 L883.5 1176.9 L884.7 1181.7 L885.9 1175.6 L887.1 1177.3 L888.3 1179.0 L889.5 1179.5 L890.7 1178.6 L891.9 1179.3 L893.1 1179.2 L894.3 1179.1 L895.5 1179.7 L896.7 1179.3 L897.9 1178.9 L899.1 1178.8 L900.3 1180.1 L901.5 1178.8 L902.7 1179.7 L903.9 1180.9 L905.1 1179.5 L906.3 1180.5 L907.5 1178.5 L908.7 1179.3 L909.9 1179.6 L911.1 1179.3 L912.3 1179.6 L913.5 1180.7 L914.7 1178.6 L915.9 1178.2 L917.1 1179.4 L918.3 1177.3 L919.5 1179.0 L920.7 1180.4 L921.9 1179.0 L923.1 1179.7 L924.3 1179.5 L925.5 1180.4 L926.7 1179.6 L927.9 1179.2 L929.1 1175.0 L930.3 1178.4 L931.5 1179.8 L932.7 1178.8 L933.9 1178.1 L935.1 1180.1 L936.3 1177.9 L937.5 1178.6 L938.7 1179.8 L939.9 1178.3 L941.1 1179.2 L942.3 1178.9 L943.5 1177.5 L944.7 1178.3 L945.9 1178.5 L947.1 1178.2 L948.3 1180.3 L949.5 1178.9 L950.7 1178.2 L951.9 1177.3 L953.1 1178.5 L954.3 1180.5 L955.5 1178.5 L956.7 1179.8 L957.9 1179.4 L959.1 1178.3 L960.3 1177.7 L961.5 1179.5 L962.7 1176.9 L963.9 1179.6 L965.1 1177.4 L966.3 1179.9 L967.5 1178.4 L968.7 1178.7 L969.9 1180.1 L971.1 1177.6 L972.3 1178.9 L973.5 1178.4 L974.7 1179.4 L975.9 1179.6 L977.1 1179.1 L978.3 1179.0 L979.5 1178.2 L980.7 1179.4 L981.9 1178.4 L983.1 1178.8 L984.3 1178.9 L985.5 1177.0 L986.7 1177.3 L987.9 1178.9 L989.1 1178.6 L990.3 1180.1 L991.5 1175.6 L992.7 1178.8 L993.9 1179.8 L995.1 1178.6 L996.3 1179.4 L997.5 1178.5 L998.7 1178.3 L999.9 1179.5 L1001.1 1176.8 L1002.3 1175.7 L1003.5 1178.9 L1004.7 1178.4 L1005.9 1178.4 L1007.1 1178.6 L1008.3 1179.0 L1009.5 1177.6 L1010.7 1178.7 L1011.9 1178.5 L1013.1 1176.7 L1014.3 1177.9 L1015.5 1178.4 L1016.7 1177.1 L1017.9 1179.2 L1019.1 1177.6 L1020.3 1178.9 L1021.5 1179.6 L1022.7 1176.1 L1023.9 1176.2 L1025.1 1178.5 L1026.3 1177.5 L1027.5 1178.3 L1028.7 1179.8 L1029.9 1177.1 L1031.1 1178.7 L1032.3 1177.3 L1033.5 1176.8 L1034.7 1178.1 L1035.9 1177.8 L1037.1 1178.7 L1038.3 1177.8 L1039.5 1178.4 L1040.7 1178.0 L1041.9 1175.3 L1043.1 1176.9 L1044.3 1176.9 L1045.5 1178.3 L1046.7 1175.9 L1047.9 1177.4 L1049.1 1176.6 L1050.3 1174.9 L1051.5 1176.9 L1052.7 1177.8 L1053.9 1176.5 L1055.1 1178.0 L1056.3 1177.3 L1057.5 1177.2 L1058.7 1176.2 L1059.9 1176.6 L1061.1 1177.3 L1062.3 1176.7 L1063.5 1175.2 L1064.7 1176.4 L1065.9 1177.1 L1067.1 1177.9 L1068.3 1177.5 L1069.5 1175.3 L1070.7 1177.3 L1071.9 1174.5 L1073.1 1175.6 L1074.3 1175.3 L1075.5 1178.1 L1076.7 1177.1 L1077.9 1176.6 L1079.1 1175.4 L1080.3 1177.6 L1081.5 1175.8 L1082.7 1176.6 L1083.9 1177.3 L1085.1 1175.6 L1086.3 1176.6 L1087.5 1173.5 L1088.7 1176.6 L1089.9 1173.8 L1091.1 1176.3 L1092.3 1176.1 L1093.5 1176.3 L1094.7 1178.4 L1095.9 1172.7 L1097.1 1176.2 L1098.3 1175.1 L1099.5 1176.4 L1100.7 1175.9 L1101.9 1175.6 L1103.1 1174.8 L1104.3 1174.5 L1105.5 1175.8 L1106.7 1173.5 L1107.9 1176.6 L1109.1 1174.5 L1110.3 1175.7 L1111.5 1173.7 L1112.7 1175.7 L1113.9 1174.8 L1115.1 1175.9 L1116.3 1176.4 L1117.5 1174.3 L1118.7 1175.0 L1119.9 1175.1 L1121.1 1176.5 L1122.3 1173.2 L1123.5 1175.4 L1124.7 1174.6 L1125.9 1173.2 L1127.1 1174.2 L1128.3 1173.7 L1129.5 1175.8 L1130.7 1173.3 L1131.9 1175.6 L1133.1 1173.8 L1134.3 1175.1 L1135.5 1172.2 L1136.7 1173.3 L1137.9 1174.3 L1139.1 1173.0 L1140.3 1172.2 L1141.5 1174.0 L1142.7 1174.9 L1143.9 1173.9 L1145.1 1173.6 L1146.3 1174.3 L1147.5 1173.2 L1148.7 1174.8 L1149.9 1174.9 L1151.1 1172.0 L1152.3 1174.8 L1153.5 1174.3 L1154.7 1173.8 L1155.9 1174.2 L1157.1 1175.0 L1158.3 1175.6 L1159.5 1175.1 L1160.7 1172.9 L1161.9 1174.7 L1163.1 1171.0 L1164.3 1174.1 L1165.5 1173.8 L1166.7 1174.0 L1167.9 1171.7 L1169.1 1174.5 L1170.3 1174.2 L1171.5 1172.9 L1172.7 1170.9 L1173.9 1172.9 L1175.1 1171.4 L1176.3 1170.5 L1177.5 1171.5 L1178.7 1175.1 L1179.9 1170.4 L1181.1 1171.7 L1182.3 1172.3 L1183.5 1173.1 L1184.7 1170.7 L1185.9 1170.7 L1187.1 1172.8 L1188.3 1172.0 L1189.5 1173.1 L1190.7 1170.2 L1191.9 1171.4 L1193.1 1172.6 L1194.3 1171.6 L1195.5 1170.0 L1196.7 1171.4 L1197.9 1169.0 L1199.1 1170.3 L1200.3 1172.1 L1201.5 1172.1 L1202.7 1171.5 L1203.9 1171.8 L1205.1 1169.1 L1206.3 1170.1 L1207.5 1172.1 L1208.7 1173.5 L1209.9 1171.3 L1211.1 1169.6 L1212.3 1169.5 L1213.5 1172.1 L1214.7 1171.9 L1215.9 1169.1 L1217.1 1170.7 L1218.3 1172.1 L1219.5 1172.1 L1220.7 1169.8 L1221.9 1170.2 L1223.1 1170.9 L1224.3 1169.0 L1225.5 1168.3 L1226.7 1169.4 L1227.9 1171.6 L1229.1 1171.4 L1230.3 1170.7 L1231.5 1168.7 L1232.7 1167.7 L1233.9 1168.7 L1235.1 1170.0 L1236.3 1171.1 L1237.5 1168.8 L1238.7 1169.9 L1239.9 1167.6 L1241.1 1167.2 L1242.3 1169.6 L1243.5 1168.2 L1244.7 1168.3 L1245.9 1166.8 L1247.1 1170.4 L1248.3 1167.2 L1249.5 1169.4 L1250.7 1167.5 L1251.9 1168.8 L1253.1 1170.8 L1254.3 1169.4 L1255.5 1169.2 L1256.7 1170.0 L1257.9 1169.5 L1259.1 1170.5 L1260.3 1167.0 L1261.5 1170.3 L1262.7 1168.7 L1263.9 1167.3 L1265.1 1169.2 L1266.3 1169.0 L1267.5 1168.3 L1268.7 1169.2 L1269.9 1166.5 L1271.1 1166.0 L1272.3 1167.2 L1273.5 1169.1 L1274.7 1168.3 L1275.9 1167.6 L1277.1 1166.7 L1278.3 1167.3 L1279.5 1168.6 L1280.7 1166.5 L1281.9 1166.3 L1283.1 1167.4 L1284.3 1167.6 L1285.5 1166.9 L1286.7 1168.3 L1287.9 1166.7 L1289.1 1165.2 L1290.3 1163.6 L1291.5 1167.6 L1292.7 1165.9 L1293.9 1166.4 L1295.1 1166.4 L1296.3 1167.4 L1297.5 1166.9 L1298.7 1166.8 L1299.9 1165.8 L1301.1 1165.1 L1302.3 1165.7 L1303.5 1164.3 L1304.7 1165.6 L1305.9 1166.4 L1307.1 1165.9 L1308.3 1165.1 L1309.5 1163.8 L1310.7 1163.7 L1311.9 1163.9 L1313.1 1164.2 L1314.3 1165.1 L1315.5 1165.1 L1316.7 1165.2 L1317.9 1165.6 L1319.1 1163.2 L1320.3 1164.0 L1321.5 1164.9 L1322.7 1165.1 L1323.9 1163.3 L1325.1 1163.2 L1326.3 1165.4 L1327.5 1164.8 L1328.7 1164.4 L1329.9 1163.5 L1331.1 1162.7 L1332.3 1163.7 L1333.5 1164.1 L1334.7 1164.2 L1335.9 1164.6 L1337.1 1163.7 L1338.3 1165.0 L1339.5 1163.0 L1340.7 1163.8 L1341.9 1163.4 L1343.1 1161.1 L1344.3 1161.6 L1345.5 1162.5 L1346.7 1163.2 L1347.9 1163.4 L1349.1 1164.4 L1350.3 1162.8 L1351.5 1162.4 L1352.7 1163.1 L1353.9 1161.2 L1355.1 1162.3 L1356.3 1161.3 L1357.5 1162.5 L1358.7 1161.5 L1359.9 1161.7 L1361.1 1164.4 L1362.3 1163.3 L1363.5 1164.9 L1364.7 1162.0 L1365.9 1161.5 L1367.1 1160.6 L1368.3 1161.4 L1369.5 1159.2 L1370.7 1161.3 L1371.9 1160.4 L1373.1 1159.3 L1374.3 1158.6 L1375.5 1159.5 L1376.7 1160.0 L1377.9 1160.3 L1379.1 1158.2 L1380.3 1160.0 L1381.5 1160.2 L1382.7 1162.4 L1383.9 1160.0 L1385.1 1160.5 L1386.3 1158.5 L1387.5 1159.2 L1388.7 1158.2 L1389.9 1157.9 L1391.1 1159.4 L1392.3 1158.4 L1393.5 1160.3 L1394.7 1158.4 L1395.9 1158.8 L1397.1 1156.8 L1398.3 1156.9 L1399.5 1158.8 L1400.7 1157.1 L1401.9 1159.4 L1403.1 1156.8 L1404.3 1156.6 L1405.5 1159.9 L1406.7 1155.5 L1407.9 1156.9 L1409.1 1158.0 L1410.3 1158.1 L1411.5 1155.9 L1412.7 1159.8 L1413.9 1156.6 L1415.1 1154.8 L1416.3 1158.1 L1417.5 1156.4 L1418.7 1157.0 L1419.9 1157.8 L1421.1 1155.7 L1422.3 1155.9 L1423.5 1156.6 L1424.7 1157.7 L1425.9 1155.0 L1427.1 1158.3 L1428.3 1156.9 L1429.5 1155.1 L1430.7 1156.4 L1431.9 1157.0 L1433.1 1157.7 L1434.3 1157.2 L1435.5 1157.5 L1436.7 1155.9 L1437.9 1156.9 L1439.1 1152.8 L1440.3 1157.1 L1441.5 1155.8 L1442.7 1157.6 L1443.9 1154.9 L1445.1 1155.0 L1446.3 1155.6 L1447.5 1156.4 L1448.7 1155.8 L1449.9 1156.5 L1451.1 1155.3 L1452.3 1156.4 L1453.5 1158.4 L1454.7 1156.5 L1455.9 1155.7 L1457.1 1153.1 L1458.3 1155.6 L1459.5 1156.0 L1460.7 1154.5 L1461.9 1155.8 L1463.1 1151.9 L1464.3 1153.6 L1465.5 1153.3 L1466.7 1154.9 L1467.9 1153.2 L1469.1 1153.0 L1470.3 1155.8 L1471.5 1152.2 L1472.7 1154.4 L1473.9 1155.1 L1475.1 1153.3 L1476.3 1152.4 L1477.5 1153.2 L1478.7 1152.6 L1479.9 1152.2 L1481.1 1153.3 L1482.3 1152.9 L1483.5 1156.5 L1484.7 1154.2 L1485.9 1152.7 L1487.1 1153.0 L1488.3 1154.2 L1489.5 1153.5 L1490.7 1151.9 L1491.9 1150.6 L1493.1 1153.3 L1494.3 1150.7 L1495.5 1150.6 L1496.7 1151.4 L1497.9 1149.5 L1499.1 1150.4 L1500.3 1148.1 L1501.5 1148.3 L1502.7 1147.5 L1503.9 1150.1 L1505.1 1145.8 L1506.3 1147.2 L1507.5 1146.3 L1508.7 1146.5 L1509.9 1145.8 L1511.1 1146.3 L1512.3 1148.7 L1513.5 1148.9 L1514.7 1146.4 L1515.9 1145.7 L1517.1 1146.5 L1518.3 1149.1 L1519.5 1147.0 L1520.7 1144.5 L1521.9 1148.1 L1523.1 1146.9 L1524.3 1147.8 L1525.5 1147.5 L1526.7 1145.4 L1527.9 1148.2 L1529.1 1147.8 L1530.3 1146.1 L1531.5 1144.2 L1532.7 1145.5 L1533.9 1145.5 L1535.1 1147.7 L1536.3 1146.2 L1537.5 1146.3 L1538.7 1146.9 L1539.9 1146.3 L1541.1 1147.3 L1542.3 1147.1 L1543.5 1147.9 L1544.7 1145.2 L1545.9 1147.1 L1547.1 1146.3 L1548.3 1149.1 L1549.5 1148.3 L1550.7 1146.0 L1551.9 1147.6 L1553.1 1144.3 L1554.3 1145.0 L1555.5 1145.8 L1556.7 1146.3 L1557.9 1144.6 L1559.1 1145.8 L1560.3 1147.1 L1561.5 1143.5 L1562.7 1143.6 L1563.9 1142.7 L1565.1 1146.2 L1566.3 1143.3 L1567.5 1143.9 L1568.7 1143.1 L1569.9 1143.8 L1571.1 1143.3 L1572.3 1143.7 L1573.5 1143.4 L1574.7 1144.9 L1575.9 1141.6 L1577.1 1142.7 L1578.3 1142.2 L1579.5 1141.0 L1580.7 1142.9 L1581.9 1143.8 L1583.1 1140.1 L1584.3 1144.2 L1585.5 1140.9 L1586.7 1140.7 L1587.9 1137.5 L1589.1 1140.6 L1590.3 1140.2 L1591.5 1139.9 L1592.7 1140.9 L1593.9 1139.8 L1595.1 1140.3 L1596.3 1139.0 L1597.5 1138.3 L1598.7 1139.7 L1599.9 1140.2 L1601.1 1140.3 L1602.3 1139.5 L1603.5 1138.4 L1604.7 1139.3 L1605.9 1138.8 L1607.1 1137.6 L1608.3 1139.4 L1609.5 1138.8 L1610.7 1137.6 L1611.9 1138.5 L1613.1 1139.5 L1614.3 1140.5 L1615.5 1136.5 L1616.7 1138.2 L1617.9 1139.2 L1619.1 1139.9 L1620.3 1138.9 L1621.5 1137.2 L1622.7 1137.7 L1623.9 1138.2 L1625.1 1137.2 L1626.3 1136.8 L1627.5 1136.5 L1628.7 1141.0 L1629.9 1137.9 L1631.1 1137.5 L1632.3 1138.5 L1633.5 1137.7 L1634.7 1137.4 L1635.9 1137.7 L1637.1 1136.4 L1638.3 1136.7 L1639.5 1138.2 L1640.7 1137.7 L1641.9 1135.6 L1643.1 1138.5 L1644.3 1136.1 L1645.5 1134.6 L1646.7 1137.2 L1647.9 1137.0 L1649.1 1136.5" fill="none" stroke="#111" stroke-width="1.7" stroke-dasharray="5 4" stroke-linejoin="round"/>

</g>
<!-- frame -->
<g fill="none" stroke="#000">
<line x1="164.6" y1="24" x2="164.6" y2="1225.5" stroke-width="6.4"/>
<line x1="161.5" y1="1222.6" x2="1654.5" y2="1222.6" stroke-width="6"/>
<line x1="161.5" y1="26.3" x2="1654.5" y2="26.3" stroke-width="5"/>
<line x1="1651.5" y1="24" x2="1651.5" y2="1225.5" stroke-width="6"/>
</g>
<line x1="290.2" y1="1209.5" x2="290.2" y2="1222" stroke="#000" stroke-width="6"/><line x1="414.0" y1="1198.0" x2="414.0" y2="1222" stroke="#000" stroke-width="6"/><line x1="537.8" y1="1209.5" x2="537.8" y2="1222" stroke="#000" stroke-width="6"/><line x1="661.5" y1="1198.0" x2="661.5" y2="1222" stroke="#000" stroke-width="6"/><line x1="785.2" y1="1209.5" x2="785.2" y2="1222" stroke="#000" stroke-width="6"/><line x1="909.0" y1="1198.0" x2="909.0" y2="1222" stroke="#000" stroke-width="6"/><line x1="1032.8" y1="1209.5" x2="1032.8" y2="1222" stroke="#000" stroke-width="6"/><line x1="1156.5" y1="1198.0" x2="1156.5" y2="1222" stroke="#000" stroke-width="6"/><line x1="1280.2" y1="1209.5" x2="1280.2" y2="1222" stroke="#000" stroke-width="6"/><line x1="1404.0" y1="1198.0" x2="1404.0" y2="1222" stroke="#000" stroke-width="6"/><line x1="1527.8" y1="1209.5" x2="1527.8" y2="1222" stroke="#000" stroke-width="6"/>
<g class="sans thin" font-size="52.5" fill="#000">
<text x="0.0" y="1288.5" text-anchor="middle" transform="translate(164.3 0) scale(0.955 1)">0</text><text x="0.0" y="1288.5" text-anchor="middle" transform="translate(411.8 0) scale(0.955 1)">500</text><text x="0.0" y="1288.5" text-anchor="middle" transform="translate(659.3 0) scale(0.955 1)">1000</text><text x="0.0" y="1288.5" text-anchor="middle" transform="translate(906.8 0) scale(0.955 1)">1500</text><text x="0.0" y="1288.5" text-anchor="middle" transform="translate(1154.3 0) scale(0.955 1)">2000</text><text x="0.0" y="1288.5" text-anchor="middle" transform="translate(1401.8 0) scale(0.955 1)">2500</text><text x="0.0" y="1288.5" text-anchor="middle" transform="translate(1649.3 0) scale(0.955 1)">3000</text>
</g>
<!-- legend -->
<rect x="176.5" y="34.5" width="495" height="402" fill="#fff" stroke="#111" stroke-width="2.2"/>
<g stroke-width="2.4" fill="none">
<line x1="183" y1="71.6" x2="299" y2="71.6" stroke="#3c3c3c" stroke-dasharray="14 11.5"/>
<line x1="183" y1="138" x2="304" y2="138" stroke="#8484d4" stroke-width="3.6"/>
<line x1="183" y1="203.6" x2="304" y2="203.6" stroke="#2a9d5a" stroke-width="3.6"/>
<line x1="183" y1="269.9" x2="304" y2="269.9" stroke="#ff1010" stroke-width="2.2"/>
<line x1="183" y1="335.3" x2="304" y2="335.3" stroke="#6a6ea6" stroke-width="2.6"/>
<line x1="183" y1="399.5" x2="304" y2="399.5" stroke="#cf7cc8" stroke-width="4" stroke-dasharray="9 3.5"/>
</g>
<g class="sans thin" font-size="55.6" fill="#000" transform="translate(317 0) scale(0.97 1)">
<text x="0" y="88.6">(a) MnO2/Ni</text>
<text x="0" y="154.4">(b) 25 C/G/Ni</text>
<text x="0" y="220.2">(c) 50 C/G/Ni</text>
<text x="0" y="286">(d) 75 C/G/Ni</text>
<text x="0" y="351.8">(e) 100 C/G/Ni</text>
<text x="0" y="417.6">(f) G/Ni</text>
</g>
<!-- peak labels -->
<g class="serifb thin2" font-size="50" fill="#000">
<text x="846.6" y="122.3">D</text>
<text x="962.2" y="200">G</text>
<text x="1418" y="587">2D</text>
<text x="1617.5" y="637.5" font-size="48">D+G</text>
</g>
<!-- curve labels -->
<g class="serifb thin3" font-size="41" fill="#000" transform="translate(169 0) scale(1.07 1)">
<text x="1.4" y="801.6">(f)</text>
<text x="0" y="904.5">(e)</text>
<text x="0" y="982">(d)</text>
<text x="0" y="1033.5">(c)</text>
<text x="0" y="1130">(b)</text>
<text x="2" y="1175">(a)</text>
</g>
<!-- axis titles -->
<text class="sans thin2" x="652" y="1391" font-size="62.5">Raman shift (cm<tspan font-size="40" dy="-25" dx="1">-1</tspan><tspan dy="25" dx="3">)</tspan></text>
<text class="sans thin2" font-size="62" transform="translate(70.7 781) rotate(-90)" x="0" y="0">Intensity (a.u.)</text>
</svg>
</body></html>
